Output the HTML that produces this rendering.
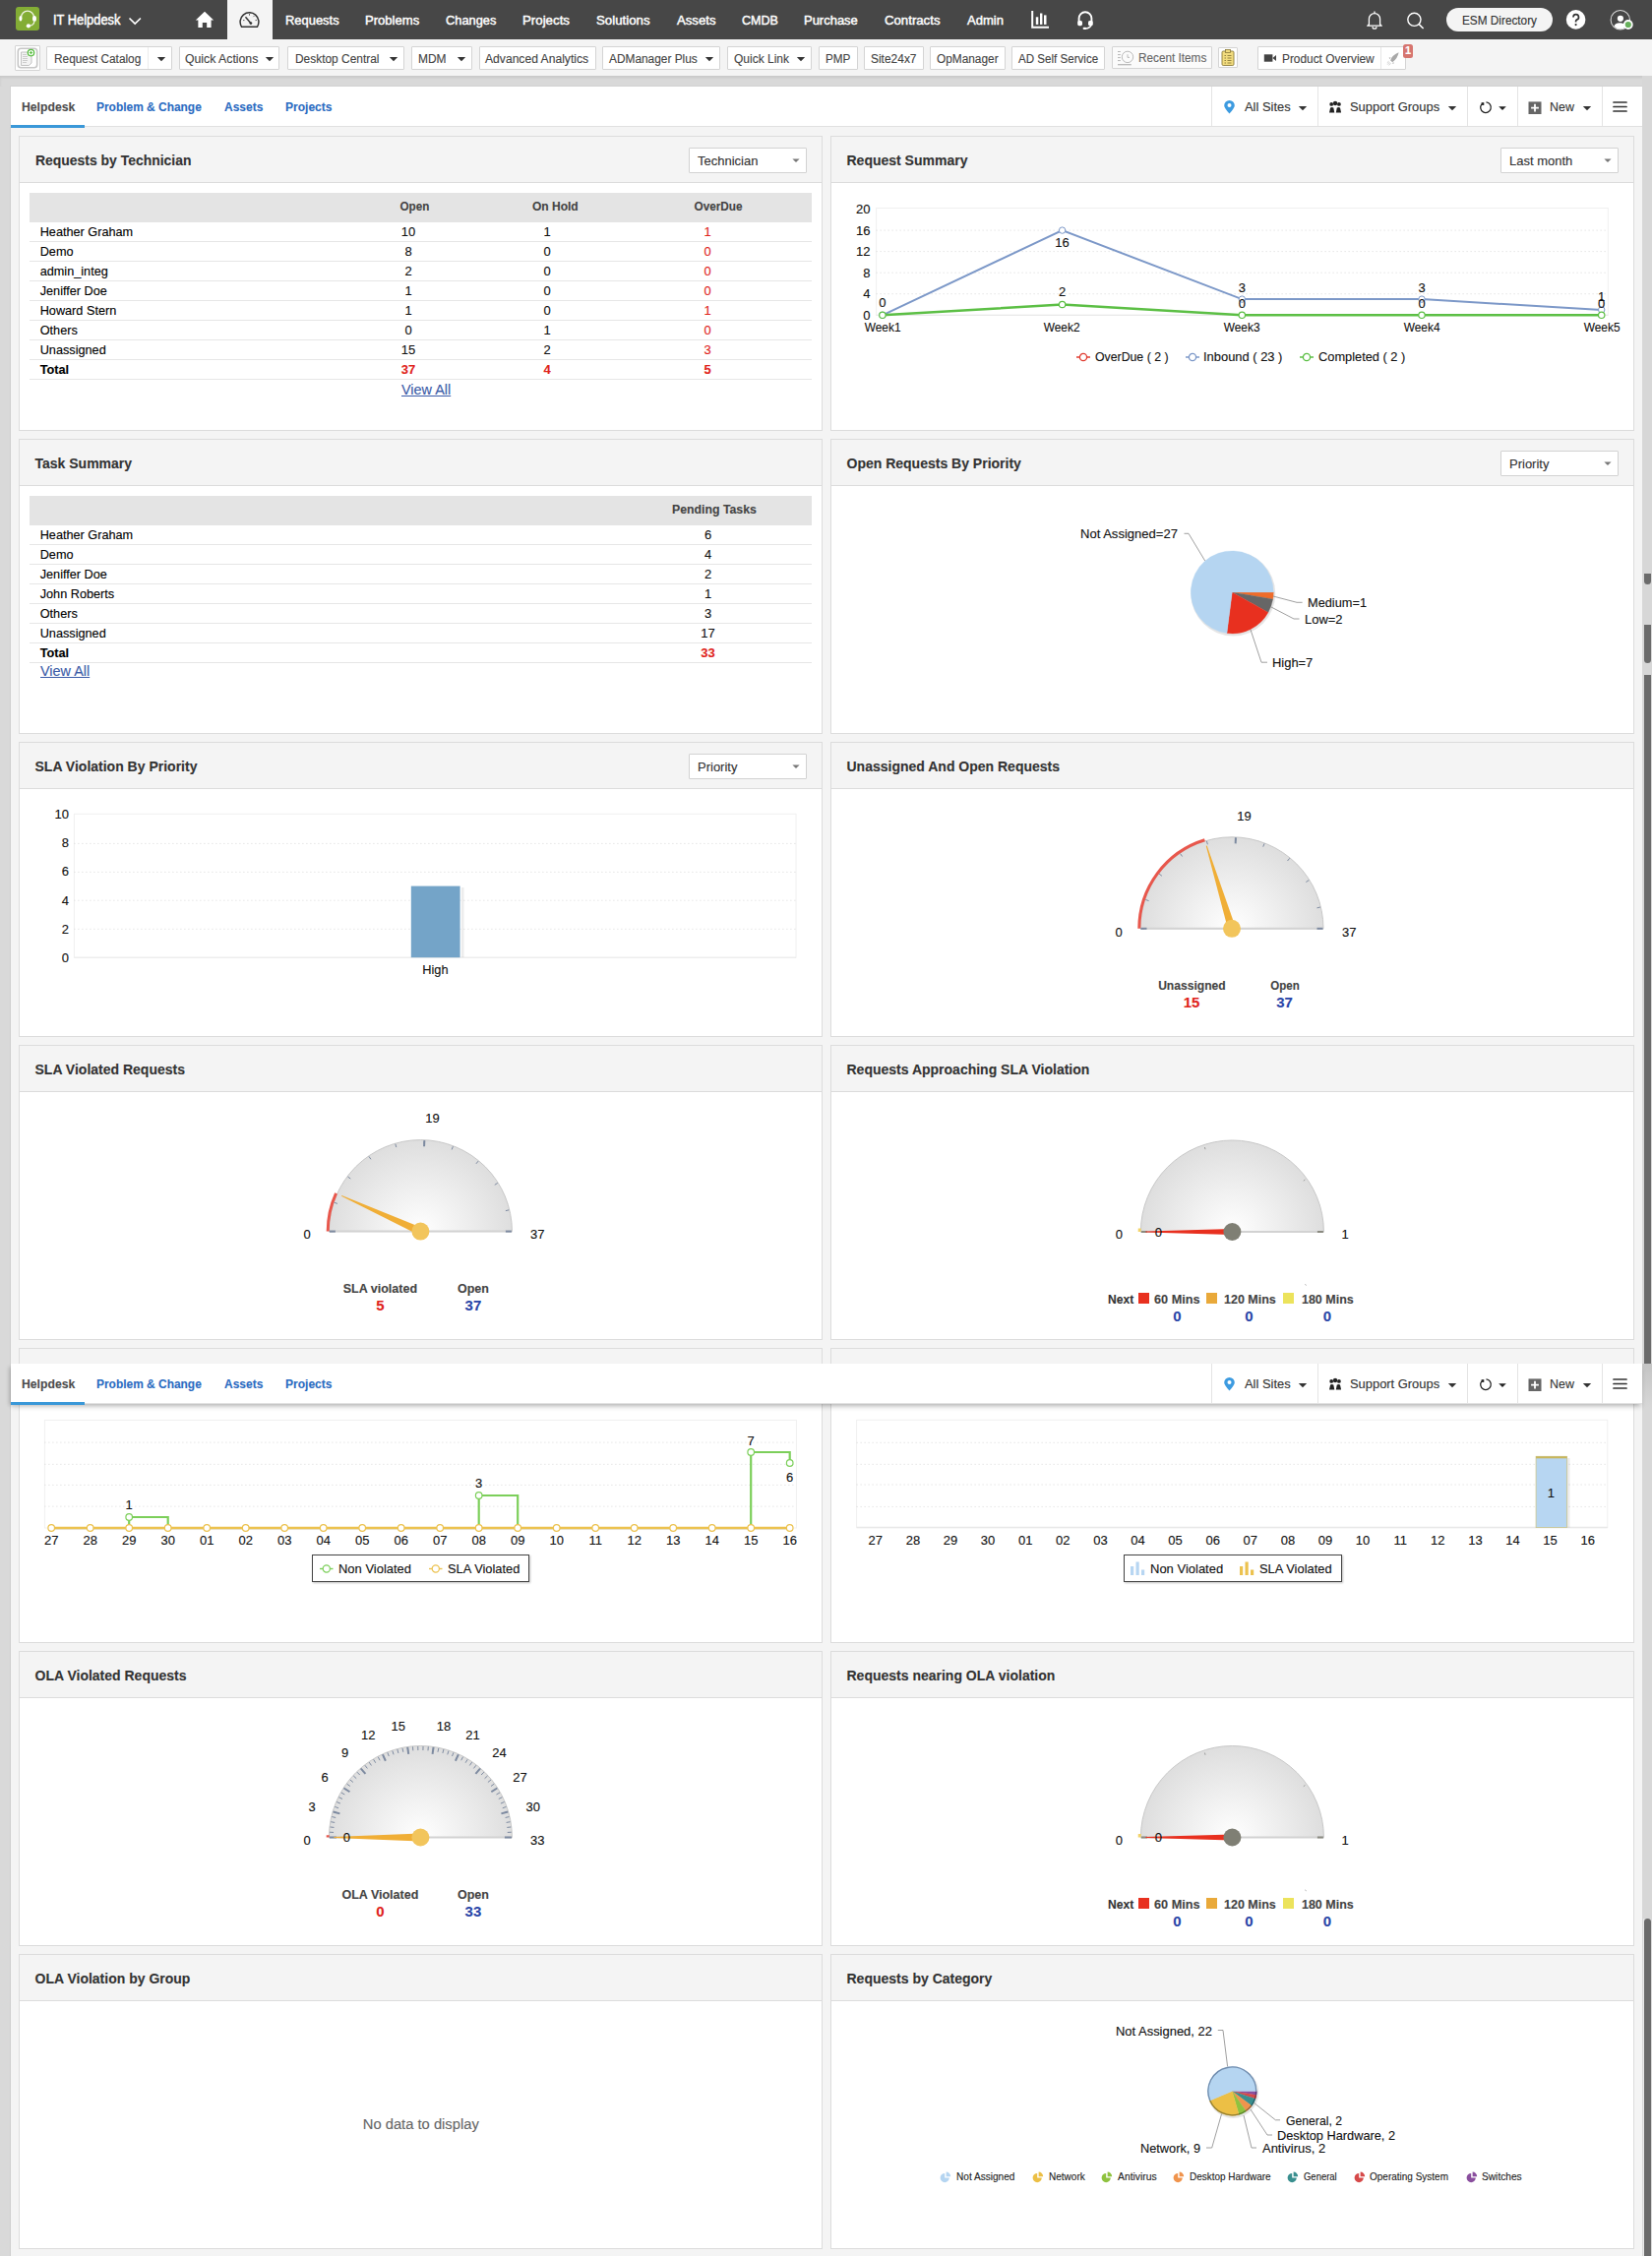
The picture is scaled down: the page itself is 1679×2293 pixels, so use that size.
<!DOCTYPE html><html><head><meta charset="utf-8"><title>Dashboard</title><style>html,body{margin:0;padding:0;}body{width:1679px;height:2293px;overflow:hidden;position:relative;font-family:"Liberation Sans", sans-serif;}svg{overflow:visible}div{-webkit-text-stroke:0.12px currentColor;}</style></head><body><div style="position:absolute;left:0px;top:0px;width:1679px;height:2293px;background:#f4f4f4;"></div><div style="position:absolute;left:0px;top:77px;width:11px;height:2216px;background:#d9d9d9;"></div><div style="position:absolute;left:10px;top:88px;width:1px;height:2205px;background:#cfcfcf;"></div><div style="position:absolute;left:1669px;top:77px;width:10px;height:2216px;background:#d9d9d9;"></div><div style="position:absolute;left:0px;top:0px;width:1679px;height:40px;background:#474747;"></div><div style="position:absolute;left:16px;top:7px;width:24px;height:24px;background:#83ad35;border-radius:3px;"></div><svg style="position:absolute;left:16px;top:7px;" width="24" height="24" viewBox="0 0 24 24"><path d="M5.6 12.5 V10.5 A6.4 6.4 0 0 1 18.4 10.5 V12.5" fill="none" stroke="#eef3e2" stroke-width="1.3"/><ellipse cx="4.9" cy="11.8" rx="1.5" ry="2.7" fill="#fff"/><ellipse cx="19" cy="11.9" rx="2" ry="2.9" fill="#fff"/><path d="M18.9 14.5 Q18.6 18.6 14.2 19.2" fill="none" stroke="#eef3e2" stroke-width="1.2"/><circle cx="12.9" cy="19.3" r="2.1" fill="#fff"/></svg><div style="position:absolute;left:53.70px;top:12.75px;font-size:14px;line-height:14px;font-weight:normal;color:#fff;white-space:nowrap;z-index:2;-webkit-text-stroke:0.45px #fff;"><span style="display:inline-block;transform:scaleX(0.9200);transform-origin:left center;">IT Helpdesk</span></div><svg style="position:absolute;left:130px;top:16px;" width="15" height="10" viewBox="0 0 15 10"><path d="M1.5 2.5 L7.2 8 L12.9 2.5" fill="none" stroke="#fff" stroke-width="1.7"/></svg><svg style="position:absolute;left:198px;top:11px;" width="20" height="18" viewBox="0 0 20 18"><path d="M10 0.8 L19.2 9.6 L16.6 9.6 L16.6 17 L12.2 17 L12.2 12 L7.8 12 L7.8 17 L3.4 17 L3.4 9.6 L0.8 9.6 Z" fill="#fff"/></svg><div style="position:absolute;left:231px;top:0px;width:46px;height:40px;background:#f4f4f4;"></div><svg style="position:absolute;left:243px;top:11px;" width="22" height="18" viewBox="0 0 22 18"><path d="M2.6 16.3 A9.4 9.4 0 1 1 18.4 16.3 Z" fill="none" stroke="#333" stroke-width="1.5" stroke-linejoin="round"/><path d="M6.5 6.2 L11.6 12.3" stroke="#333" stroke-width="1.4"/><circle cx="11.9" cy="12.6" r="1.4" fill="#333"/><path d="M10.5 3.2 V4.6 M4.2 9.6 H5.4 M16.6 9.6 H17.8 M15.2 5.3 L14.4 6.1" stroke="#333" stroke-width="0.9"/></svg><div style="position:absolute;left:290.20px;top:14.27px;font-size:13.5px;line-height:13.5px;font-weight:normal;color:#fff;white-space:nowrap;z-index:2;-webkit-text-stroke:0.45px #fff;"><span style="display:inline-block;transform:scaleX(0.9571);transform-origin:left center;">Requests</span></div><div style="position:absolute;left:371.20px;top:14.27px;font-size:13.5px;line-height:13.5px;font-weight:normal;color:#fff;white-space:nowrap;z-index:2;-webkit-text-stroke:0.45px #fff;"><span style="display:inline-block;transform:scaleX(0.9679);transform-origin:left center;">Problems</span></div><div style="position:absolute;left:452.90px;top:14.27px;font-size:13.5px;line-height:13.5px;font-weight:normal;color:#fff;white-space:nowrap;z-index:2;-webkit-text-stroke:0.45px #fff;"><span style="display:inline-block;transform:scaleX(0.9492);transform-origin:left center;">Changes</span></div><div style="position:absolute;left:531.00px;top:14.27px;font-size:13.5px;line-height:13.5px;font-weight:normal;color:#fff;white-space:nowrap;z-index:2;-webkit-text-stroke:0.45px #fff;"><span style="display:inline-block;transform:scaleX(0.9840);transform-origin:left center;">Projects</span></div><div style="position:absolute;left:606.40px;top:14.27px;font-size:13.5px;line-height:13.5px;font-weight:normal;color:#fff;white-space:nowrap;z-index:2;-webkit-text-stroke:0.45px #fff;"><span style="display:inline-block;transform:scaleX(0.9830);transform-origin:left center;">Solutions</span></div><div style="position:absolute;left:688.20px;top:14.27px;font-size:13.5px;line-height:13.5px;font-weight:normal;color:#fff;white-space:nowrap;z-index:2;-webkit-text-stroke:0.45px #fff;"><span style="display:inline-block;transform:scaleX(0.9749);transform-origin:left center;">Assets</span></div><div style="position:absolute;left:754.00px;top:14.27px;font-size:13.5px;line-height:13.5px;font-weight:normal;color:#fff;white-space:nowrap;z-index:2;-webkit-text-stroke:0.45px #fff;"><span style="display:inline-block;transform:scaleX(0.9283);transform-origin:left center;">CMDB</span></div><div style="position:absolute;left:817.20px;top:14.27px;font-size:13.5px;line-height:13.5px;font-weight:normal;color:#fff;white-space:nowrap;z-index:2;-webkit-text-stroke:0.45px #fff;"><span style="display:inline-block;transform:scaleX(0.9606);transform-origin:left center;">Purchase</span></div><div style="position:absolute;left:899.00px;top:14.27px;font-size:13.5px;line-height:13.5px;font-weight:normal;color:#fff;white-space:nowrap;z-index:2;-webkit-text-stroke:0.45px #fff;"><span style="display:inline-block;transform:scaleX(0.9778);transform-origin:left center;">Contracts</span></div><div style="position:absolute;left:983.40px;top:14.27px;font-size:13.5px;line-height:13.5px;font-weight:normal;color:#fff;white-space:nowrap;z-index:2;-webkit-text-stroke:0.45px #fff;"><span style="display:inline-block;transform:scaleX(0.9643);transform-origin:left center;">Admin</span></div><svg style="position:absolute;left:1047px;top:10px;" width="20" height="20" viewBox="0 0 20 20"><path d="M2.2 1 V17.8 H19" fill="none" stroke="#fff" stroke-width="2"/><rect x="5.8" y="7.3" width="2.5" height="7.6" fill="#fff"/><rect x="10" y="3.5" width="2.4" height="11.4" fill="#fff"/><rect x="14" y="5.4" width="2.5" height="9.5" fill="#fff"/></svg><svg style="position:absolute;left:1093px;top:9px;" width="20" height="22" viewBox="0 0 20 22"><path d="M3.6 13 V9.6 A6.4 6.4 0 0 1 16.4 9.6 V13" fill="none" stroke="#fff" stroke-width="1.9"/><rect x="2.2" y="12" width="4.8" height="5.2" rx="1.6" fill="#fff"/><rect x="13" y="12" width="4.8" height="5.2" rx="1.6" fill="#fff"/><path d="M16 16.5 Q15 19.6 10 20" fill="none" stroke="#fff" stroke-width="1.6"/><rect x="7.6" y="18.8" width="3.6" height="2.3" rx="1" fill="#fff"/></svg><svg style="position:absolute;left:1387px;top:10px;" width="20" height="20" viewBox="0 0 20 20"><path d="M10 1.6 V3 M4.4 14.8 V9.2 A5.6 5.6 0 0 1 15.6 9.2 V14.8 L17.2 16.2 H2.8 Z" fill="none" stroke="#fff" stroke-width="1.3" stroke-linejoin="round"/><path d="M8 17.2 A2 2 0 0 0 12 17.2" fill="none" stroke="#fff" stroke-width="1.3"/></svg><svg style="position:absolute;left:1429px;top:12px;" width="20" height="18" viewBox="0 0 20 18"><circle cx="8.4" cy="7.8" r="6.6" fill="none" stroke="#fff" stroke-width="1.4"/><path d="M13.2 12.6 L17.6 17" stroke="#fff" stroke-width="1.5"/></svg><div style="position:absolute;left:1470px;top:8px;width:108px;height:24px;background:#f4f4f4;border-radius:12px;"></div><div style="position:absolute;left:1485.90px;top:15.14px;font-size:12px;line-height:12px;font-weight:normal;color:#333;white-space:nowrap;z-index:2;"><span style="display:inline-block;transform:scaleX(0.9826);transform-origin:left center;">ESM Directory</span></div><svg style="position:absolute;left:1591px;top:9px;" width="22" height="22" viewBox="0 0 22 22"><circle cx="10.6" cy="10.9" r="9.8" fill="#fff"/><path d="M8 8.5 A2.75 2.75 0 1 1 11.5 11.1 Q10.6 11.6 10.6 12.8 V13.6" fill="none" stroke="#333" stroke-width="1.7"/><circle cx="10.6" cy="16.1" r="1.1" fill="#333"/></svg><svg style="position:absolute;left:1635px;top:9px;" width="26" height="24" viewBox="0 0 26 24"><defs><clipPath id="ucl"><circle cx="11.8" cy="11.2" r="9.2"/></clipPath></defs><circle cx="11.8" cy="11.2" r="9.7" fill="none" stroke="#d6d6d6" stroke-width="1.1"/><circle cx="11.9" cy="9.8" r="3.1" fill="#fff"/><ellipse cx="11.3" cy="17.8" rx="5.8" ry="3.5" fill="#fff" clip-path="url(#ucl)"/><circle cx="19.8" cy="16" r="4.9" fill="#fff"/><circle cx="19.8" cy="16" r="3.1" fill="#67b05b"/></svg><div style="position:absolute;left:0px;top:40px;width:1679px;height:37px;background:#f4f4f4;"></div><div style="position:absolute;left:0px;top:77px;width:1679px;height:11px;background:#d9d9d9;box-shadow: inset 0 2px 3px rgba(0,0,0,0.08);"></div><div style="position:absolute;left:15px;top:46px;width:26px;height:26px;background:#fff;box-sizing:border-box;border:1px solid #d4d4d4;border-radius:1px;"></div><svg style="position:absolute;left:15px;top:46px;" width="26" height="26" viewBox="0 0 26 26"><rect x="3.3" y="3.3" width="19.4" height="19.4" rx="3" fill="#fff" stroke="#c6c6c6" stroke-width="1.6"/><path d="M6.5 7 H14 L17 10 V18 L14.5 20.5 H6.5 Z" fill="#f3f3f3" stroke="#bbb" stroke-width="0.9"/><path d="M8 9.5H12 M8 11.5H13 M8 13.5H13 M8 15.5H13 M8 17.5H12" stroke="#bbb" stroke-width="0.7"/><circle cx="16.5" cy="7.6" r="3.2" fill="#fff" stroke="#5cbf45" stroke-width="1.3"/><path d="M16.5 5.9V9.3M14.8 7.6H18.2" stroke="#5cbf45" stroke-width="1"/></svg><div style="position:absolute;left:47px;top:47px;width:128px;height:24px;background:#fff;box-sizing:border-box;border:1px solid #d4d4d4;border-radius:1px;"></div><div style="position:absolute;left:54.50px;top:54.04px;font-size:12px;line-height:12px;font-weight:normal;color:#444;white-space:nowrap;z-index:2;"><span style="display:inline-block;transform:scaleX(0.9878);transform-origin:left center;">Request Catalog</span></div><svg style="position:absolute;left:157.8px;top:56px;" width="12" height="8" viewBox="0 0 12 8"><path d="M1.80 2.11 L10.20 2.11 L6 6.31 Z" fill="#333"/></svg><div style="position:absolute;left:150px;top:48px;width:1px;height:22px;background:#ececec;"></div><div style="position:absolute;left:182px;top:47px;width:102px;height:24px;background:#fff;box-sizing:border-box;border:1px solid #d4d4d4;border-radius:1px;"></div><div style="position:absolute;left:188.40px;top:54.04px;font-size:12px;line-height:12px;font-weight:normal;color:#444;white-space:nowrap;z-index:2;"><span style="display:inline-block;transform:scaleX(1.0220);transform-origin:left center;">Quick Actions</span></div><svg style="position:absolute;left:268px;top:56px;" width="12" height="8" viewBox="0 0 12 8"><path d="M1.80 2.11 L10.20 2.11 L6 6.31 Z" fill="#333"/></svg><div style="position:absolute;left:292px;top:47px;width:119px;height:24px;background:#fff;box-sizing:border-box;border:1px solid #d4d4d4;border-radius:1px;"></div><div style="position:absolute;left:299.50px;top:54.04px;font-size:12px;line-height:12px;font-weight:normal;color:#444;white-space:nowrap;z-index:2;"><span style="display:inline-block;transform:scaleX(0.9936);transform-origin:left center;">Desktop Central</span></div><svg style="position:absolute;left:394px;top:56px;" width="12" height="8" viewBox="0 0 12 8"><path d="M1.80 2.11 L10.20 2.11 L6 6.31 Z" fill="#333"/></svg><div style="position:absolute;left:418px;top:47px;width:62px;height:24px;background:#fff;box-sizing:border-box;border:1px solid #d4d4d4;border-radius:1px;"></div><div style="position:absolute;left:425.40px;top:54.04px;font-size:12px;line-height:12px;font-weight:normal;color:#444;white-space:nowrap;z-index:2;"><span style="display:inline-block;transform:scaleX(0.9975);transform-origin:left center;">MDM</span></div><svg style="position:absolute;left:463px;top:56px;" width="12" height="8" viewBox="0 0 12 8"><path d="M1.80 2.11 L10.20 2.11 L6 6.31 Z" fill="#333"/></svg><div style="position:absolute;left:487px;top:47px;width:119px;height:24px;background:#fff;box-sizing:border-box;border:1px solid #d4d4d4;border-radius:1px;"></div><div style="position:absolute;left:493.40px;top:54.04px;font-size:12px;line-height:12px;font-weight:normal;color:#444;white-space:nowrap;z-index:2;"><span style="display:inline-block;transform:scaleX(1.0100);transform-origin:left center;">Advanced Analytics</span></div><div style="position:absolute;left:612px;top:47px;width:120px;height:24px;background:#fff;box-sizing:border-box;border:1px solid #d4d4d4;border-radius:1px;"></div><div style="position:absolute;left:619.00px;top:54.04px;font-size:12px;line-height:12px;font-weight:normal;color:#444;white-space:nowrap;z-index:2;"><span style="display:inline-block;transform:scaleX(0.9899);transform-origin:left center;">ADManager Plus</span></div><svg style="position:absolute;left:714.8px;top:56px;" width="12" height="8" viewBox="0 0 12 8"><path d="M1.80 2.11 L10.20 2.11 L6 6.31 Z" fill="#333"/></svg><div style="position:absolute;left:739px;top:47px;width:86px;height:24px;background:#fff;box-sizing:border-box;border:1px solid #d4d4d4;border-radius:1px;"></div><div style="position:absolute;left:746.00px;top:54.04px;font-size:12px;line-height:12px;font-weight:normal;color:#444;white-space:nowrap;z-index:2;"><span style="display:inline-block;transform:scaleX(0.9994);transform-origin:left center;">Quick Link</span></div><svg style="position:absolute;left:808px;top:56px;" width="12" height="8" viewBox="0 0 12 8"><path d="M1.80 2.11 L10.20 2.11 L6 6.31 Z" fill="#333"/></svg><div style="position:absolute;left:832px;top:47px;width:40px;height:24px;background:#fff;box-sizing:border-box;border:1px solid #d4d4d4;border-radius:1px;"></div><div style="position:absolute;left:839.00px;top:54.04px;font-size:12px;line-height:12px;font-weight:normal;color:#444;white-space:nowrap;z-index:2;"><span style="display:inline-block;transform:scaleX(0.9763);transform-origin:left center;">PMP</span></div><div style="position:absolute;left:878px;top:47px;width:61px;height:24px;background:#fff;box-sizing:border-box;border:1px solid #d4d4d4;border-radius:1px;"></div><div style="position:absolute;left:885.00px;top:54.04px;font-size:12px;line-height:12px;font-weight:normal;color:#444;white-space:nowrap;z-index:2;"><span style="display:inline-block;transform:scaleX(0.9957);transform-origin:left center;">Site24x7</span></div><div style="position:absolute;left:945px;top:47px;width:77px;height:24px;background:#fff;box-sizing:border-box;border:1px solid #d4d4d4;border-radius:1px;"></div><div style="position:absolute;left:952.00px;top:54.04px;font-size:12px;line-height:12px;font-weight:normal;color:#444;white-space:nowrap;z-index:2;"><span style="display:inline-block;transform:scaleX(0.9878);transform-origin:left center;">OpManager</span></div><div style="position:absolute;left:1028px;top:47px;width:95px;height:24px;background:#fff;box-sizing:border-box;border:1px solid #d4d4d4;border-radius:1px;"></div><div style="position:absolute;left:1035.40px;top:54.04px;font-size:12px;line-height:12px;font-weight:normal;color:#444;white-space:nowrap;z-index:2;"><span style="display:inline-block;transform:scaleX(0.9663);transform-origin:left center;">AD Self Service</span></div><div style="position:absolute;left:1130px;top:47px;width:102px;height:23px;background:#fbfbfb;box-sizing:border-box;border:1px solid #d4d4d4;border-radius:1px;"></div><svg style="position:absolute;left:1130px;top:47px;" width="26" height="22" viewBox="0 0 26 22"><circle cx="16" cy="10.9" r="5.7" fill="none" stroke="#b4b4b4" stroke-width="0.9"/><path d="M16 8.3 V11.4 H18" fill="none" stroke="#b4b4b4" stroke-width="0.9"/><path d="M6 5.5H8.8 M6 8.6H8.8 M6 11.6H8.8 M6 14.6H8.8" stroke="#b4b4b4" stroke-width="1"/><path d="M6 18.7H19.8" stroke="#b8b8b8" stroke-width="1.3"/></svg><div style="position:absolute;left:1156.50px;top:52.74px;font-size:12px;line-height:12px;font-weight:normal;color:#666;white-space:nowrap;z-index:2;"><span style="display:inline-block;transform:scaleX(0.9802);transform-origin:left center;">Recent Items</span></div><div style="position:absolute;left:1238px;top:48px;width:20px;height:21px;background:#fff;box-sizing:border-box;border:1px solid #d4d4d4;border-radius:1px;"></div><svg style="position:absolute;left:1238px;top:48px;" width="20" height="21" viewBox="0 0 20 21"><rect x="4" y="4" width="12" height="14.5" rx="1.2" fill="#f2dc7e" stroke="#8a7a3a" stroke-width="0.9"/><rect x="7.5" y="2.5" width="5" height="3" fill="#f2dc7e" stroke="#8a7a3a" stroke-width="0.8"/><path d="M6.5 8.5H8 M9.5 8.5H13.5 M6.5 11H8 M9.5 11H13.5 M6.5 13.5H8 M9.5 13.5H13.5 M6.5 16H8 M9.5 16H13.5" stroke="#8a7a3a" stroke-width="0.9"/></svg><div style="position:absolute;left:1278px;top:47px;width:151px;height:24px;background:#fff;box-sizing:border-box;border:1px solid #d4d4d4;border-radius:1px;"></div><div style="position:absolute;left:1403px;top:48px;width:1px;height:22px;background:#e6e6e6;"></div><svg style="position:absolute;left:1284px;top:54px;" width="14" height="10" viewBox="0 0 14 10"><rect x="0.8" y="1.3" width="8.6" height="7.4" fill="#444"/><path d="M9.4 5 L13 2 V8 Z" fill="#444"/></svg><div style="position:absolute;left:1302.50px;top:54.04px;font-size:12px;line-height:12px;font-weight:normal;color:#444;white-space:nowrap;z-index:2;"><span style="display:inline-block;transform:scaleX(0.9894);transform-origin:left center;">Product Overview</span></div><svg style="position:absolute;left:1404px;top:48px;" width="22" height="22" viewBox="0 0 22 22"><path d="M9.2 13.6 Q10 8.4 17.6 5.2 Q16.4 11.6 11.2 15.2 Z" fill="#a9a9a9"/><path d="M9.6 10.2 L7.6 10.6 L8.4 12.2Z M12.6 15 L12.4 17 L10.8 16.2Z" fill="#b5b5b5"/><path d="M8.4 15.2 L6.2 17.6 M9.4 16.2 L7.6 18.4 M7.6 14.2 L5.8 15.8" stroke="#c4c4c4" stroke-width="0.8"/></svg><div style="position:absolute;left:1426px;top:45.4px;width:10px;height:13.3px;background:#d6756f;border-radius:2.5px;"></div><div style="position:absolute;left:1031.00px;width:800px;text-align:center;top:46.29px;font-size:11px;line-height:11px;font-weight:bold;color:#fff;white-space:nowrap;z-index:2;"><span style="display:inline-block;">1</span></div><div style="position:absolute;left:10px;top:87px;width:1659px;height:42px;background:#fff;box-sizing:border-box;border-bottom:1px solid #e1e1e1;border-top:1px solid #d2d2d2;border-left:1px solid #d2d2d2;"></div><div style="position:absolute;left:21.50px;top:102.00px;font-size:13px;line-height:13px;font-weight:bold;color:#4d4d4d;white-space:nowrap;z-index:2;"><span style="display:inline-block;transform:scaleX(0.9392);transform-origin:left center;">Helpdesk</span></div><div style="position:absolute;left:11px;top:127px;width:75px;height:3px;background:#3a98d8;"></div><div style="position:absolute;left:98.30px;top:102.00px;font-size:13px;line-height:13px;font-weight:bold;color:#2c6cc2;white-space:nowrap;z-index:2;"><span style="display:inline-block;transform:scaleX(0.9183);transform-origin:left center;">Problem &amp; Change</span></div><div style="position:absolute;left:227.80px;top:102.00px;font-size:13px;line-height:13px;font-weight:bold;color:#2c6cc2;white-space:nowrap;z-index:2;"><span style="display:inline-block;transform:scaleX(0.9217);transform-origin:left center;">Assets</span></div><div style="position:absolute;left:289.80px;top:102.00px;font-size:13px;line-height:13px;font-weight:bold;color:#2c6cc2;white-space:nowrap;z-index:2;"><span style="display:inline-block;transform:scaleX(0.9257);transform-origin:left center;">Projects</span></div><div style="position:absolute;left:1231px;top:88px;width:1px;height:40px;background:#e4e4e4;"></div><div style="position:absolute;left:1339px;top:88px;width:1px;height:40px;background:#e4e4e4;"></div><div style="position:absolute;left:1491px;top:88px;width:1px;height:40px;background:#e4e4e4;"></div><div style="position:absolute;left:1542px;top:88px;width:1px;height:40px;background:#e4e4e4;"></div><div style="position:absolute;left:1628px;top:88px;width:1px;height:40px;background:#e4e4e4;"></div><svg style="position:absolute;left:1243px;top:101px;" width="13" height="16" viewBox="0 0 13 16"><path d="M6.5 14.6 Q1.2 8.6 1.2 6.2 A5.3 5.3 0 0 1 11.8 6.2 Q11.8 8.6 6.5 14.6Z" fill="#3d9be0"/><circle cx="6.5" cy="6.1" r="2" fill="#fff"/></svg><div style="position:absolute;left:1264.50px;top:101.80px;font-size:13px;line-height:13px;font-weight:normal;color:#333;white-space:nowrap;z-index:2;"><span style="display:inline-block;transform:scaleX(0.9943);transform-origin:left center;">All Sites</span></div><svg style="position:absolute;left:1318px;top:106px;" width="12" height="8" viewBox="0 0 12 8"><path d="M1.80 2.11 L10.20 2.11 L6 6.31 Z" fill="#333"/></svg><svg style="position:absolute;left:1349px;top:101px;" width="16" height="15" viewBox="0 0 16 15"><circle cx="4.2" cy="4.9" r="1.9" fill="#222"/><circle cx="11.9" cy="4.9" r="1.9" fill="#222"/><circle cx="8.05" cy="4" r="2.2" fill="#222"/><path d="M2 13.4 L3.1 8.4 Q4.5 7.6 6.3 8.4 L7.3 13.4Z M8.8 13.4 L9.8 8.4 Q11.6 7.6 13 8.4 L14.1 13.4Z" fill="#222"/></svg><div style="position:absolute;left:1372.00px;top:101.80px;font-size:13px;line-height:13px;font-weight:normal;color:#333;white-space:nowrap;z-index:2;"><span style="display:inline-block;transform:scaleX(0.9926);transform-origin:left center;">Support Groups</span></div><svg style="position:absolute;left:1470px;top:106px;" width="12" height="8" viewBox="0 0 12 8"><path d="M1.80 2.11 L10.20 2.11 L6 6.31 Z" fill="#333"/></svg><svg style="position:absolute;left:1503px;top:102px;" width="14" height="14" viewBox="0 0 14 14"><path d="M7.46 1.92 A5.3 5.3 0 1 1 2.94 3.79" fill="none" stroke="#222" stroke-width="1.25"/><rect x="2.6" y="2.2" width="2.7" height="2.7" fill="#222"/></svg><svg style="position:absolute;left:1520.8px;top:106px;" width="12" height="8" viewBox="0 0 12 8"><path d="M2.20 2.29 L9.80 2.29 L6 6.09 Z" fill="#222"/></svg><svg style="position:absolute;left:1553px;top:103px;" width="14" height="14" viewBox="0 0 14 14"><rect x="0.5" y="0.4" width="13" height="12.6" fill="#666"/><path d="M7 2.8V10.6 M3.1 6.7H10.9" stroke="#fff" stroke-width="1.8"/></svg><div style="position:absolute;left:1575.30px;top:101.80px;font-size:13px;line-height:13px;font-weight:normal;color:#333;white-space:nowrap;z-index:2;"><span style="display:inline-block;transform:scaleX(0.9571);transform-origin:left center;">New</span></div><svg style="position:absolute;left:1606.6px;top:106px;" width="12" height="8" viewBox="0 0 12 8"><path d="M1.80 2.11 L10.20 2.11 L6 6.31 Z" fill="#333"/></svg><svg style="position:absolute;left:1639px;top:102px;" width="15" height="13" viewBox="0 0 15 13"><path d="M1 2H14 M1 6.5H14 M1 11H14" stroke="#333" stroke-width="1.7" stroke-linecap="round"/></svg><div style="position:absolute;left:19px;top:138px;width:817px;height:300px;background:#fff;box-sizing:border-box;border:1px solid #dcdcdc;"></div><div style="position:absolute;left:20px;top:139px;width:815px;height:47px;background:#f4f4f4;box-sizing:border-box;border-bottom:1px solid #dcdcdc;"></div><div style="position:absolute;left:35.50px;top:156.15px;font-size:14px;line-height:14px;font-weight:bold;color:#333;white-space:nowrap;z-index:2;"><span style="display:inline-block;transform:scaleX(0.9954);transform-origin:left center;">Requests by Technician</span></div><div style="position:absolute;left:700px;top:150px;width:120px;height:26px;background:#fff;box-sizing:border-box;border:1px solid #d2d2d2;border-radius:1px;"></div><div style="position:absolute;left:709.00px;top:156.80px;font-size:13px;line-height:13px;font-weight:normal;color:#333;white-space:nowrap;z-index:2;"><span style="display:inline-block;">Technician</span></div><svg style="position:absolute;left:803px;top:159px;" width="12" height="8" viewBox="0 0 12 8"><path d="M2.40 2.38 L9.60 2.38 L6 5.98 Z" fill="#777"/></svg><div style="position:absolute;left:30px;top:196px;width:795px;height:30px;background:#e4e4e4;"></div><div style="position:absolute;left:21.00px;width:800px;text-align:center;top:203.84px;font-size:12px;line-height:12px;font-weight:bold;color:#444;white-space:nowrap;z-index:2;"><span style="display:inline-block;transform:scaleX(0.9748);transform-origin:center center;">Open</span></div><div style="position:absolute;left:164.00px;width:800px;text-align:center;top:203.84px;font-size:12px;line-height:12px;font-weight:bold;color:#444;white-space:nowrap;z-index:2;"><span style="display:inline-block;transform:scaleX(1.0027);transform-origin:center center;">On Hold</span></div><div style="position:absolute;left:330.00px;width:800px;text-align:center;top:203.84px;font-size:12px;line-height:12px;font-weight:bold;color:#444;white-space:nowrap;z-index:2;"><span style="display:inline-block;transform:scaleX(0.9814);transform-origin:center center;">OverDue</span></div><div style="position:absolute;left:30px;top:245px;width:795px;height:1px;background:#e6e6e6;"></div><div style="position:absolute;left:40.70px;top:230.05px;font-size:12.7px;line-height:12.7px;font-weight:normal;color:#000;white-space:nowrap;z-index:2;"><span style="display:inline-block;">Heather Graham</span></div><div style="position:absolute;left:15.00px;width:800px;text-align:center;top:229.00px;font-size:13px;line-height:13px;font-weight:normal;color:#111;white-space:nowrap;z-index:2;"><span style="display:inline-block;">10</span></div><div style="position:absolute;left:156.00px;width:800px;text-align:center;top:229.00px;font-size:13px;line-height:13px;font-weight:normal;color:#111;white-space:nowrap;z-index:2;"><span style="display:inline-block;">1</span></div><div style="position:absolute;left:319.00px;width:800px;text-align:center;top:229.00px;font-size:13px;line-height:13px;font-weight:normal;color:#e0241c;white-space:nowrap;z-index:2;"><span style="display:inline-block;">1</span></div><div style="position:absolute;left:30px;top:265px;width:795px;height:1px;background:#e6e6e6;"></div><div style="position:absolute;left:40.70px;top:250.05px;font-size:12.7px;line-height:12.7px;font-weight:normal;color:#000;white-space:nowrap;z-index:2;"><span style="display:inline-block;">Demo</span></div><div style="position:absolute;left:15.00px;width:800px;text-align:center;top:249.00px;font-size:13px;line-height:13px;font-weight:normal;color:#111;white-space:nowrap;z-index:2;"><span style="display:inline-block;">8</span></div><div style="position:absolute;left:156.00px;width:800px;text-align:center;top:249.00px;font-size:13px;line-height:13px;font-weight:normal;color:#111;white-space:nowrap;z-index:2;"><span style="display:inline-block;">0</span></div><div style="position:absolute;left:319.00px;width:800px;text-align:center;top:249.00px;font-size:13px;line-height:13px;font-weight:normal;color:#e0241c;white-space:nowrap;z-index:2;"><span style="display:inline-block;">0</span></div><div style="position:absolute;left:30px;top:285px;width:795px;height:1px;background:#e6e6e6;"></div><div style="position:absolute;left:40.70px;top:270.05px;font-size:12.7px;line-height:12.7px;font-weight:normal;color:#000;white-space:nowrap;z-index:2;"><span style="display:inline-block;">admin_integ</span></div><div style="position:absolute;left:15.00px;width:800px;text-align:center;top:269.00px;font-size:13px;line-height:13px;font-weight:normal;color:#111;white-space:nowrap;z-index:2;"><span style="display:inline-block;">2</span></div><div style="position:absolute;left:156.00px;width:800px;text-align:center;top:269.00px;font-size:13px;line-height:13px;font-weight:normal;color:#111;white-space:nowrap;z-index:2;"><span style="display:inline-block;">0</span></div><div style="position:absolute;left:319.00px;width:800px;text-align:center;top:269.00px;font-size:13px;line-height:13px;font-weight:normal;color:#e0241c;white-space:nowrap;z-index:2;"><span style="display:inline-block;">0</span></div><div style="position:absolute;left:30px;top:305px;width:795px;height:1px;background:#e6e6e6;"></div><div style="position:absolute;left:40.70px;top:290.05px;font-size:12.7px;line-height:12.7px;font-weight:normal;color:#000;white-space:nowrap;z-index:2;"><span style="display:inline-block;">Jeniffer Doe</span></div><div style="position:absolute;left:15.00px;width:800px;text-align:center;top:289.00px;font-size:13px;line-height:13px;font-weight:normal;color:#111;white-space:nowrap;z-index:2;"><span style="display:inline-block;">1</span></div><div style="position:absolute;left:156.00px;width:800px;text-align:center;top:289.00px;font-size:13px;line-height:13px;font-weight:normal;color:#111;white-space:nowrap;z-index:2;"><span style="display:inline-block;">0</span></div><div style="position:absolute;left:319.00px;width:800px;text-align:center;top:289.00px;font-size:13px;line-height:13px;font-weight:normal;color:#e0241c;white-space:nowrap;z-index:2;"><span style="display:inline-block;">0</span></div><div style="position:absolute;left:30px;top:325px;width:795px;height:1px;background:#e6e6e6;"></div><div style="position:absolute;left:40.70px;top:310.05px;font-size:12.7px;line-height:12.7px;font-weight:normal;color:#000;white-space:nowrap;z-index:2;"><span style="display:inline-block;">Howard Stern</span></div><div style="position:absolute;left:15.00px;width:800px;text-align:center;top:309.00px;font-size:13px;line-height:13px;font-weight:normal;color:#111;white-space:nowrap;z-index:2;"><span style="display:inline-block;">1</span></div><div style="position:absolute;left:156.00px;width:800px;text-align:center;top:309.00px;font-size:13px;line-height:13px;font-weight:normal;color:#111;white-space:nowrap;z-index:2;"><span style="display:inline-block;">0</span></div><div style="position:absolute;left:319.00px;width:800px;text-align:center;top:309.00px;font-size:13px;line-height:13px;font-weight:normal;color:#e0241c;white-space:nowrap;z-index:2;"><span style="display:inline-block;">1</span></div><div style="position:absolute;left:30px;top:345px;width:795px;height:1px;background:#e6e6e6;"></div><div style="position:absolute;left:40.70px;top:330.05px;font-size:12.7px;line-height:12.7px;font-weight:normal;color:#000;white-space:nowrap;z-index:2;"><span style="display:inline-block;">Others</span></div><div style="position:absolute;left:15.00px;width:800px;text-align:center;top:329.00px;font-size:13px;line-height:13px;font-weight:normal;color:#111;white-space:nowrap;z-index:2;"><span style="display:inline-block;">0</span></div><div style="position:absolute;left:156.00px;width:800px;text-align:center;top:329.00px;font-size:13px;line-height:13px;font-weight:normal;color:#111;white-space:nowrap;z-index:2;"><span style="display:inline-block;">1</span></div><div style="position:absolute;left:319.00px;width:800px;text-align:center;top:329.00px;font-size:13px;line-height:13px;font-weight:normal;color:#e0241c;white-space:nowrap;z-index:2;"><span style="display:inline-block;">0</span></div><div style="position:absolute;left:30px;top:365px;width:795px;height:1px;background:#e6e6e6;"></div><div style="position:absolute;left:40.70px;top:350.05px;font-size:12.7px;line-height:12.7px;font-weight:normal;color:#000;white-space:nowrap;z-index:2;"><span style="display:inline-block;">Unassigned</span></div><div style="position:absolute;left:15.00px;width:800px;text-align:center;top:349.00px;font-size:13px;line-height:13px;font-weight:normal;color:#111;white-space:nowrap;z-index:2;"><span style="display:inline-block;">15</span></div><div style="position:absolute;left:156.00px;width:800px;text-align:center;top:349.00px;font-size:13px;line-height:13px;font-weight:normal;color:#111;white-space:nowrap;z-index:2;"><span style="display:inline-block;">2</span></div><div style="position:absolute;left:319.00px;width:800px;text-align:center;top:349.00px;font-size:13px;line-height:13px;font-weight:normal;color:#e0241c;white-space:nowrap;z-index:2;"><span style="display:inline-block;">3</span></div><div style="position:absolute;left:30px;top:385px;width:795px;height:1px;background:#e6e6e6;"></div><div style="position:absolute;left:40.70px;top:370.05px;font-size:12.7px;line-height:12.7px;font-weight:bold;color:#000;white-space:nowrap;z-index:2;"><span style="display:inline-block;">Total</span></div><div style="position:absolute;left:15.00px;width:800px;text-align:center;top:369.00px;font-size:13px;line-height:13px;font-weight:bold;color:#e0241c;white-space:nowrap;z-index:2;"><span style="display:inline-block;">37</span></div><div style="position:absolute;left:156.00px;width:800px;text-align:center;top:369.00px;font-size:13px;line-height:13px;font-weight:bold;color:#e0241c;white-space:nowrap;z-index:2;"><span style="display:inline-block;">4</span></div><div style="position:absolute;left:319.00px;width:800px;text-align:center;top:369.00px;font-size:13px;line-height:13px;font-weight:bold;color:#e0241c;white-space:nowrap;z-index:2;"><span style="display:inline-block;">5</span></div><div style="position:absolute;left:408.00px;top:389.45px;font-size:14px;line-height:14px;font-weight:normal;color:#3b5ca8;white-space:nowrap;z-index:2;"><span style="display:inline-block;transform:scaleX(1.0291);transform-origin:left center;text-decoration:underline;">View All</span></div><div style="position:absolute;left:19px;top:446px;width:817px;height:300px;background:#fff;box-sizing:border-box;border:1px solid #dcdcdc;"></div><div style="position:absolute;left:20px;top:447px;width:815px;height:47px;background:#f4f4f4;box-sizing:border-box;border-bottom:1px solid #dcdcdc;"></div><div style="position:absolute;left:35.50px;top:464.15px;font-size:14px;line-height:14px;font-weight:bold;color:#333;white-space:nowrap;z-index:2;"><span style="display:inline-block;">Task Summary</span></div><div style="position:absolute;left:30px;top:504px;width:795px;height:30px;background:#e4e4e4;"></div><div style="position:absolute;left:325.70px;width:800px;text-align:center;top:511.84px;font-size:12px;line-height:12px;font-weight:bold;color:#444;white-space:nowrap;z-index:2;"><span style="display:inline-block;transform:scaleX(1.0249);transform-origin:center center;">Pending Tasks</span></div><div style="position:absolute;left:30px;top:553px;width:795px;height:1px;background:#e6e6e6;"></div><div style="position:absolute;left:40.70px;top:538.05px;font-size:12.7px;line-height:12.7px;font-weight:normal;color:#000;white-space:nowrap;z-index:2;"><span style="display:inline-block;">Heather Graham</span></div><div style="position:absolute;left:319.50px;width:800px;text-align:center;top:537.00px;font-size:13px;line-height:13px;font-weight:normal;color:#111;white-space:nowrap;z-index:2;"><span style="display:inline-block;">6</span></div><div style="position:absolute;left:30px;top:573px;width:795px;height:1px;background:#e6e6e6;"></div><div style="position:absolute;left:40.70px;top:558.05px;font-size:12.7px;line-height:12.7px;font-weight:normal;color:#000;white-space:nowrap;z-index:2;"><span style="display:inline-block;">Demo</span></div><div style="position:absolute;left:319.50px;width:800px;text-align:center;top:557.00px;font-size:13px;line-height:13px;font-weight:normal;color:#111;white-space:nowrap;z-index:2;"><span style="display:inline-block;">4</span></div><div style="position:absolute;left:30px;top:593px;width:795px;height:1px;background:#e6e6e6;"></div><div style="position:absolute;left:40.70px;top:578.05px;font-size:12.7px;line-height:12.7px;font-weight:normal;color:#000;white-space:nowrap;z-index:2;"><span style="display:inline-block;">Jeniffer Doe</span></div><div style="position:absolute;left:319.50px;width:800px;text-align:center;top:577.00px;font-size:13px;line-height:13px;font-weight:normal;color:#111;white-space:nowrap;z-index:2;"><span style="display:inline-block;">2</span></div><div style="position:absolute;left:30px;top:613px;width:795px;height:1px;background:#e6e6e6;"></div><div style="position:absolute;left:40.70px;top:598.05px;font-size:12.7px;line-height:12.7px;font-weight:normal;color:#000;white-space:nowrap;z-index:2;"><span style="display:inline-block;">John Roberts</span></div><div style="position:absolute;left:319.50px;width:800px;text-align:center;top:597.00px;font-size:13px;line-height:13px;font-weight:normal;color:#111;white-space:nowrap;z-index:2;"><span style="display:inline-block;">1</span></div><div style="position:absolute;left:30px;top:633px;width:795px;height:1px;background:#e6e6e6;"></div><div style="position:absolute;left:40.70px;top:618.05px;font-size:12.7px;line-height:12.7px;font-weight:normal;color:#000;white-space:nowrap;z-index:2;"><span style="display:inline-block;">Others</span></div><div style="position:absolute;left:319.50px;width:800px;text-align:center;top:617.00px;font-size:13px;line-height:13px;font-weight:normal;color:#111;white-space:nowrap;z-index:2;"><span style="display:inline-block;">3</span></div><div style="position:absolute;left:30px;top:653px;width:795px;height:1px;background:#e6e6e6;"></div><div style="position:absolute;left:40.70px;top:638.05px;font-size:12.7px;line-height:12.7px;font-weight:normal;color:#000;white-space:nowrap;z-index:2;"><span style="display:inline-block;">Unassigned</span></div><div style="position:absolute;left:319.50px;width:800px;text-align:center;top:637.00px;font-size:13px;line-height:13px;font-weight:normal;color:#111;white-space:nowrap;z-index:2;"><span style="display:inline-block;">17</span></div><div style="position:absolute;left:30px;top:673px;width:795px;height:1px;background:#e6e6e6;"></div><div style="position:absolute;left:40.70px;top:658.05px;font-size:12.7px;line-height:12.7px;font-weight:bold;color:#000;white-space:nowrap;z-index:2;"><span style="display:inline-block;">Total</span></div><div style="position:absolute;left:319.50px;width:800px;text-align:center;top:657.00px;font-size:13px;line-height:13px;font-weight:bold;color:#e0241c;white-space:nowrap;z-index:2;"><span style="display:inline-block;">33</span></div><div style="position:absolute;left:40.50px;top:674.85px;font-size:14px;line-height:14px;font-weight:normal;color:#3b5ca8;white-space:nowrap;z-index:2;"><span style="display:inline-block;transform:scaleX(1.0291);transform-origin:left center;text-decoration:underline;">View All</span></div><div style="position:absolute;left:844px;top:138px;width:817px;height:300px;background:#fff;box-sizing:border-box;border:1px solid #dcdcdc;"></div><div style="position:absolute;left:845px;top:139px;width:815px;height:47px;background:#f4f4f4;box-sizing:border-box;border-bottom:1px solid #dcdcdc;"></div><div style="position:absolute;left:860.50px;top:156.15px;font-size:14px;line-height:14px;font-weight:bold;color:#333;white-space:nowrap;z-index:2;"><span style="display:inline-block;">Request Summary</span></div><div style="position:absolute;left:1525px;top:150px;width:120px;height:26px;background:#fff;box-sizing:border-box;border:1px solid #d2d2d2;border-radius:1px;"></div><div style="position:absolute;left:1534.00px;top:156.80px;font-size:13px;line-height:13px;font-weight:normal;color:#333;white-space:nowrap;z-index:2;"><span style="display:inline-block;">Last month</span></div><svg style="position:absolute;left:1628px;top:159px;" width="12" height="8" viewBox="0 0 12 8"><path d="M2.40 2.38 L9.60 2.38 L6 5.98 Z" fill="#777"/></svg><svg style="position:absolute;left:0px;top:0px;pointer-events:none;z-index:1;" width="1679" height="2293" viewBox="0 0 1679 2293"><rect x="890.6" y="211.5" width="743.6999999999999" height="108.80000000000001" fill="none" stroke="#f0f0f0" stroke-width="1"/><path d="M890.6 298.7 H1634.3" stroke="#d8d8d8" stroke-width="1" stroke-dasharray="1,3"/><path d="M890.6 277.2 H1634.3" stroke="#d8d8d8" stroke-width="1" stroke-dasharray="1,3"/><path d="M890.6 255.6 H1634.3" stroke="#d8d8d8" stroke-width="1" stroke-dasharray="1,3"/><path d="M890.6 234.1 H1634.3" stroke="#d8d8d8" stroke-width="1" stroke-dasharray="1,3"/><path d="M890.6 320.3 H1634.3" stroke="#e6e6e6" stroke-width="1"/><polyline points="896.9,320.3 1079.6,234.1 1262.3,304.1 1445.0,304.1 1627.7,314.9" fill="none" stroke="#7c98c8" stroke-width="2"/><circle cx="896.9" cy="320.3" r="3.2" fill="#fff" stroke="#7c98c8" stroke-width="1"/><circle cx="1079.6" cy="234.1" r="3.2" fill="#fff" stroke="#7c98c8" stroke-width="1"/><circle cx="1262.3" cy="304.1" r="3.2" fill="#fff" stroke="#7c98c8" stroke-width="1"/><circle cx="1445.0" cy="304.1" r="3.2" fill="#fff" stroke="#7c98c8" stroke-width="1"/><circle cx="1627.7" cy="314.9" r="3.2" fill="#fff" stroke="#7c98c8" stroke-width="1"/><polyline points="896.9,320.3 1079.6,309.5 1262.3,320.3 1445.0,320.3 1627.7,320.3" fill="none" stroke="#5cbf45" stroke-width="2.5"/><circle cx="896.9" cy="320.3" r="3.2" fill="#fff" stroke="#5cbf45" stroke-width="1.2"/><circle cx="1079.6" cy="309.5" r="3.2" fill="#fff" stroke="#5cbf45" stroke-width="1.2"/><circle cx="1262.3" cy="320.3" r="3.2" fill="#fff" stroke="#5cbf45" stroke-width="1.2"/><circle cx="1445.0" cy="320.3" r="3.2" fill="#fff" stroke="#5cbf45" stroke-width="1.2"/><circle cx="1627.7" cy="320.3" r="3.2" fill="#fff" stroke="#5cbf45" stroke-width="1.2"/></svg><div style="position:absolute;left:84.50px;width:800px;text-align:right;top:313.80px;font-size:13px;line-height:13px;font-weight:normal;color:#111;white-space:nowrap;z-index:2;"><span style="display:inline-block;">0</span></div><div style="position:absolute;left:84.50px;width:800px;text-align:right;top:292.24px;font-size:13px;line-height:13px;font-weight:normal;color:#111;white-space:nowrap;z-index:2;"><span style="display:inline-block;">4</span></div><div style="position:absolute;left:84.50px;width:800px;text-align:right;top:270.68px;font-size:13px;line-height:13px;font-weight:normal;color:#111;white-space:nowrap;z-index:2;"><span style="display:inline-block;">8</span></div><div style="position:absolute;left:84.50px;width:800px;text-align:right;top:249.12px;font-size:13px;line-height:13px;font-weight:normal;color:#111;white-space:nowrap;z-index:2;"><span style="display:inline-block;">12</span></div><div style="position:absolute;left:84.50px;width:800px;text-align:right;top:227.56px;font-size:13px;line-height:13px;font-weight:normal;color:#111;white-space:nowrap;z-index:2;"><span style="display:inline-block;">16</span></div><div style="position:absolute;left:84.50px;width:800px;text-align:right;top:206.00px;font-size:13px;line-height:13px;font-weight:normal;color:#111;white-space:nowrap;z-index:2;"><span style="display:inline-block;">20</span></div><div style="position:absolute;left:496.90px;width:800px;text-align:center;top:326.30px;font-size:13px;line-height:13px;font-weight:normal;color:#111;white-space:nowrap;z-index:2;"><span style="display:inline-block;transform:scaleX(0.9146);transform-origin:center center;">Week1</span></div><div style="position:absolute;left:679.60px;width:800px;text-align:center;top:326.30px;font-size:13px;line-height:13px;font-weight:normal;color:#111;white-space:nowrap;z-index:2;"><span style="display:inline-block;transform:scaleX(0.9146);transform-origin:center center;">Week2</span></div><div style="position:absolute;left:862.30px;width:800px;text-align:center;top:326.30px;font-size:13px;line-height:13px;font-weight:normal;color:#111;white-space:nowrap;z-index:2;"><span style="display:inline-block;transform:scaleX(0.9146);transform-origin:center center;">Week3</span></div><div style="position:absolute;left:1045.00px;width:800px;text-align:center;top:326.30px;font-size:13px;line-height:13px;font-weight:normal;color:#111;white-space:nowrap;z-index:2;"><span style="display:inline-block;transform:scaleX(0.9146);transform-origin:center center;">Week4</span></div><div style="position:absolute;left:1227.70px;width:800px;text-align:center;top:326.30px;font-size:13px;line-height:13px;font-weight:normal;color:#111;white-space:nowrap;z-index:2;"><span style="display:inline-block;transform:scaleX(0.9146);transform-origin:center center;">Week5</span></div><div style="position:absolute;left:496.90px;width:800px;text-align:center;top:300.50px;font-size:13px;line-height:13px;font-weight:normal;color:#111;white-space:nowrap;z-index:2;"><span style="display:inline-block;">0</span></div><div style="position:absolute;left:679.60px;width:800px;text-align:center;top:239.50px;font-size:13px;line-height:13px;font-weight:normal;color:#111;white-space:nowrap;z-index:2;"><span style="display:inline-block;">16</span></div><div style="position:absolute;left:679.60px;width:800px;text-align:center;top:289.50px;font-size:13px;line-height:13px;font-weight:normal;color:#111;white-space:nowrap;z-index:2;"><span style="display:inline-block;">2</span></div><div style="position:absolute;left:862.30px;width:800px;text-align:center;top:285.50px;font-size:13px;line-height:13px;font-weight:normal;color:#111;white-space:nowrap;z-index:2;"><span style="display:inline-block;">3</span></div><div style="position:absolute;left:862.30px;width:800px;text-align:center;top:301.50px;font-size:13px;line-height:13px;font-weight:normal;color:#111;white-space:nowrap;z-index:2;"><span style="display:inline-block;">0</span></div><div style="position:absolute;left:1045.00px;width:800px;text-align:center;top:285.50px;font-size:13px;line-height:13px;font-weight:normal;color:#111;white-space:nowrap;z-index:2;"><span style="display:inline-block;">3</span></div><div style="position:absolute;left:1045.00px;width:800px;text-align:center;top:301.50px;font-size:13px;line-height:13px;font-weight:normal;color:#111;white-space:nowrap;z-index:2;"><span style="display:inline-block;">0</span></div><div style="position:absolute;left:1227.70px;width:800px;text-align:center;top:295.00px;font-size:13px;line-height:13px;font-weight:normal;color:#111;white-space:nowrap;z-index:2;"><span style="display:inline-block;">1</span></div><div style="position:absolute;left:1227.70px;width:800px;text-align:center;top:301.50px;font-size:13px;line-height:13px;font-weight:normal;color:#111;white-space:nowrap;z-index:2;"><span style="display:inline-block;">0</span></div><svg style="position:absolute;left:1093.5px;top:357px;" width="15" height="12" viewBox="0 0 15 12"><path d="M0 6 H14" stroke="#e03c31" stroke-width="1.5"/><circle cx="7" cy="6" r="3.6" fill="#fff" stroke="#e03c31" stroke-width="1.3"/></svg><div style="position:absolute;left:1112.70px;top:356.40px;font-size:13px;line-height:13px;font-weight:normal;color:#111;white-space:nowrap;z-index:2;"><span style="display:inline-block;transform:scaleX(0.9460);transform-origin:left center;">OverDue ( 2 )</span></div><svg style="position:absolute;left:1204.6px;top:357px;" width="15" height="12" viewBox="0 0 15 12"><path d="M0 6 H14" stroke="#7c98c8" stroke-width="1.5"/><circle cx="7" cy="6" r="3.6" fill="#fff" stroke="#7c98c8" stroke-width="1.3"/></svg><div style="position:absolute;left:1223.40px;top:356.40px;font-size:13px;line-height:13px;font-weight:normal;color:#111;white-space:nowrap;z-index:2;"><span style="display:inline-block;transform:scaleX(0.9932);transform-origin:left center;">Inbound ( 23 )</span></div><svg style="position:absolute;left:1321.2px;top:357px;" width="15" height="12" viewBox="0 0 15 12"><path d="M0 6 H14" stroke="#5cbf45" stroke-width="1.5"/><circle cx="7" cy="6" r="3.6" fill="#fff" stroke="#5cbf45" stroke-width="1.3"/></svg><div style="position:absolute;left:1340.40px;top:356.40px;font-size:13px;line-height:13px;font-weight:normal;color:#111;white-space:nowrap;z-index:2;"><span style="display:inline-block;transform:scaleX(0.9856);transform-origin:left center;">Completed ( 2 )</span></div><div style="position:absolute;left:844px;top:446px;width:817px;height:300px;background:#fff;box-sizing:border-box;border:1px solid #dcdcdc;"></div><div style="position:absolute;left:845px;top:447px;width:815px;height:47px;background:#f4f4f4;box-sizing:border-box;border-bottom:1px solid #dcdcdc;"></div><div style="position:absolute;left:860.50px;top:464.15px;font-size:14px;line-height:14px;font-weight:bold;color:#333;white-space:nowrap;z-index:2;"><span style="display:inline-block;">Open Requests By Priority</span></div><div style="position:absolute;left:1525px;top:458px;width:120px;height:26px;background:#fff;box-sizing:border-box;border:1px solid #d2d2d2;border-radius:1px;"></div><div style="position:absolute;left:1534.00px;top:464.80px;font-size:13px;line-height:13px;font-weight:normal;color:#333;white-space:nowrap;z-index:2;"><span style="display:inline-block;">Priority</span></div><svg style="position:absolute;left:1628px;top:467px;" width="12" height="8" viewBox="0 0 12 8"><path d="M2.40 2.38 L9.60 2.38 L6 5.98 Z" fill="#777"/></svg><div style="position:absolute;left:1098.40px;top:536.00px;font-size:13px;line-height:13px;font-weight:normal;color:#111;white-space:nowrap;z-index:2;"><span style="display:inline-block;transform:scaleX(1.0025);transform-origin:left center;">Not Assigned=27</span></div><div style="position:absolute;left:1329.30px;top:606.00px;font-size:13px;line-height:13px;font-weight:normal;color:#111;white-space:nowrap;z-index:2;"><span style="display:inline-block;transform:scaleX(0.9826);transform-origin:left center;">Medium=1</span></div><div style="position:absolute;left:1325.50px;top:622.70px;font-size:13px;line-height:13px;font-weight:normal;color:#111;white-space:nowrap;z-index:2;"><span style="display:inline-block;transform:scaleX(0.9956);transform-origin:left center;">Low=2</span></div><div style="position:absolute;left:1292.70px;top:666.90px;font-size:13px;line-height:13px;font-weight:normal;color:#111;white-space:nowrap;z-index:2;"><span style="display:inline-block;transform:scaleX(0.9937);transform-origin:left center;">High=7</span></div><div style="position:absolute;left:19px;top:754px;width:817px;height:300px;background:#fff;box-sizing:border-box;border:1px solid #dcdcdc;"></div><div style="position:absolute;left:20px;top:755px;width:815px;height:47px;background:#f4f4f4;box-sizing:border-box;border-bottom:1px solid #dcdcdc;"></div><div style="position:absolute;left:35.50px;top:772.15px;font-size:14px;line-height:14px;font-weight:bold;color:#333;white-space:nowrap;z-index:2;"><span style="display:inline-block;">SLA Violation By Priority</span></div><div style="position:absolute;left:700px;top:766px;width:120px;height:26px;background:#fff;box-sizing:border-box;border:1px solid #d2d2d2;border-radius:1px;"></div><div style="position:absolute;left:709.00px;top:772.80px;font-size:13px;line-height:13px;font-weight:normal;color:#333;white-space:nowrap;z-index:2;"><span style="display:inline-block;">Priority</span></div><svg style="position:absolute;left:803px;top:775px;" width="12" height="8" viewBox="0 0 12 8"><path d="M2.40 2.38 L9.60 2.38 L6 5.98 Z" fill="#777"/></svg><div style="position:absolute;left:-730.10px;width:800px;text-align:right;top:966.90px;font-size:13px;line-height:13px;font-weight:normal;color:#111;white-space:nowrap;z-index:2;"><span style="display:inline-block;">0</span></div><div style="position:absolute;left:-730.10px;width:800px;text-align:right;top:937.72px;font-size:13px;line-height:13px;font-weight:normal;color:#111;white-space:nowrap;z-index:2;"><span style="display:inline-block;">2</span></div><div style="position:absolute;left:-730.10px;width:800px;text-align:right;top:908.54px;font-size:13px;line-height:13px;font-weight:normal;color:#111;white-space:nowrap;z-index:2;"><span style="display:inline-block;">4</span></div><div style="position:absolute;left:-730.10px;width:800px;text-align:right;top:879.36px;font-size:13px;line-height:13px;font-weight:normal;color:#111;white-space:nowrap;z-index:2;"><span style="display:inline-block;">6</span></div><div style="position:absolute;left:-730.10px;width:800px;text-align:right;top:850.18px;font-size:13px;line-height:13px;font-weight:normal;color:#111;white-space:nowrap;z-index:2;"><span style="display:inline-block;">8</span></div><div style="position:absolute;left:-730.10px;width:800px;text-align:right;top:821.00px;font-size:13px;line-height:13px;font-weight:normal;color:#111;white-space:nowrap;z-index:2;"><span style="display:inline-block;">10</span></div><div style="position:absolute;left:42.80px;width:800px;text-align:center;top:978.90px;font-size:13px;line-height:13px;font-weight:normal;color:#111;white-space:nowrap;z-index:2;"><span style="display:inline-block;transform:scaleX(0.9832);transform-origin:center center;">High</span></div><div style="position:absolute;left:844px;top:754px;width:817px;height:300px;background:#fff;box-sizing:border-box;border:1px solid #dcdcdc;"></div><div style="position:absolute;left:845px;top:755px;width:815px;height:47px;background:#f4f4f4;box-sizing:border-box;border-bottom:1px solid #dcdcdc;"></div><div style="position:absolute;left:860.50px;top:772.15px;font-size:14px;line-height:14px;font-weight:bold;color:#333;white-space:nowrap;z-index:2;"><span style="display:inline-block;">Unassigned And Open Requests</span></div><div style="position:absolute;left:737.20px;width:800px;text-align:center;top:940.50px;font-size:13px;line-height:13px;font-weight:normal;color:#111;white-space:nowrap;z-index:2;"><span style="display:inline-block;">0</span></div><div style="position:absolute;left:971.20px;width:800px;text-align:center;top:940.50px;font-size:13px;line-height:13px;font-weight:normal;color:#111;white-space:nowrap;z-index:2;"><span style="display:inline-block;">37</span></div><div style="position:absolute;left:864.60px;width:800px;text-align:center;top:822.60px;font-size:13px;line-height:13px;font-weight:normal;color:#111;white-space:nowrap;z-index:2;"><span style="display:inline-block;">19</span></div><div style="position:absolute;left:811.00px;width:800px;text-align:center;top:996.22px;font-size:12.5px;line-height:12.5px;font-weight:bold;color:#444;white-space:nowrap;z-index:2;"><span style="display:inline-block;transform:scaleX(0.9681);transform-origin:center center;">Unassigned</span></div><div style="position:absolute;left:811.00px;width:800px;text-align:center;top:1011.10px;font-size:15px;line-height:15px;font-weight:bold;color:#e0241c;white-space:nowrap;z-index:2;"><span style="display:inline-block;">15</span></div><div style="position:absolute;left:905.50px;width:800px;text-align:center;top:996.22px;font-size:12.5px;line-height:12.5px;font-weight:bold;color:#444;white-space:nowrap;z-index:2;"><span style="display:inline-block;transform:scaleX(0.9232);transform-origin:center center;">Open</span></div><div style="position:absolute;left:905.50px;width:800px;text-align:center;top:1011.10px;font-size:15px;line-height:15px;font-weight:bold;color:#2a46a8;white-space:nowrap;z-index:2;"><span style="display:inline-block;">37</span></div><div style="position:absolute;left:19px;top:1062px;width:817px;height:300px;background:#fff;box-sizing:border-box;border:1px solid #dcdcdc;"></div><div style="position:absolute;left:20px;top:1063px;width:815px;height:47px;background:#f4f4f4;box-sizing:border-box;border-bottom:1px solid #dcdcdc;"></div><div style="position:absolute;left:35.50px;top:1080.15px;font-size:14px;line-height:14px;font-weight:bold;color:#333;white-space:nowrap;z-index:2;"><span style="display:inline-block;">SLA Violated Requests</span></div><div style="position:absolute;left:-87.80px;width:800px;text-align:center;top:1248.30px;font-size:13px;line-height:13px;font-weight:normal;color:#111;white-space:nowrap;z-index:2;"><span style="display:inline-block;">0</span></div><div style="position:absolute;left:146.20px;width:800px;text-align:center;top:1248.30px;font-size:13px;line-height:13px;font-weight:normal;color:#111;white-space:nowrap;z-index:2;"><span style="display:inline-block;">37</span></div><div style="position:absolute;left:39.60px;width:800px;text-align:center;top:1130.40px;font-size:13px;line-height:13px;font-weight:normal;color:#111;white-space:nowrap;z-index:2;"><span style="display:inline-block;">19</span></div><div style="position:absolute;left:-13.60px;width:800px;text-align:center;top:1304.02px;font-size:12.5px;line-height:12.5px;font-weight:bold;color:#444;white-space:nowrap;z-index:2;"><span style="display:inline-block;">SLA violated</span></div><div style="position:absolute;left:-13.60px;width:800px;text-align:center;top:1318.90px;font-size:15px;line-height:15px;font-weight:bold;color:#e0241c;white-space:nowrap;z-index:2;"><span style="display:inline-block;">5</span></div><div style="position:absolute;left:80.90px;width:800px;text-align:center;top:1304.02px;font-size:12.5px;line-height:12.5px;font-weight:bold;color:#444;white-space:nowrap;z-index:2;"><span style="display:inline-block;">Open</span></div><div style="position:absolute;left:80.90px;width:800px;text-align:center;top:1318.90px;font-size:15px;line-height:15px;font-weight:bold;color:#2a46a8;white-space:nowrap;z-index:2;"><span style="display:inline-block;">37</span></div><div style="position:absolute;left:844px;top:1062px;width:817px;height:300px;background:#fff;box-sizing:border-box;border:1px solid #dcdcdc;"></div><div style="position:absolute;left:845px;top:1063px;width:815px;height:47px;background:#f4f4f4;box-sizing:border-box;border-bottom:1px solid #dcdcdc;"></div><div style="position:absolute;left:860.50px;top:1080.15px;font-size:14px;line-height:14px;font-weight:bold;color:#333;white-space:nowrap;z-index:2;"><span style="display:inline-block;">Requests Approaching SLA Violation</span></div><div style="position:absolute;left:777.40px;width:800px;text-align:center;top:1245.50px;font-size:13px;line-height:13px;font-weight:normal;color:#111;white-space:nowrap;z-index:2;"><span style="display:inline-block;">0</span></div><div style="position:absolute;left:737.40px;width:800px;text-align:center;top:1248.20px;font-size:13px;line-height:13px;font-weight:normal;color:#111;white-space:nowrap;z-index:2;"><span style="display:inline-block;">0</span></div><div style="position:absolute;left:967.10px;width:800px;text-align:center;top:1248.20px;font-size:13px;line-height:13px;font-weight:normal;color:#111;white-space:nowrap;z-index:2;"><span style="display:inline-block;">1</span></div><div style="position:absolute;left:1125.70px;top:1314.62px;font-size:12.5px;line-height:12.5px;font-weight:bold;color:#333;white-space:nowrap;z-index:2;"><span style="display:inline-block;transform:scaleX(0.9670);transform-origin:left center;">Next</span></div><div style="position:absolute;left:1157px;top:1314px;width:11px;height:11px;background:#e8301f;"></div><div style="position:absolute;left:1172.60px;top:1314.62px;font-size:12.5px;line-height:12.5px;font-weight:bold;color:#444;white-space:nowrap;z-index:2;"><span style="display:inline-block;transform:scaleX(1.0161);transform-origin:left center;">60 Mins</span></div><div style="position:absolute;left:1226px;top:1314px;width:11px;height:11px;background:#e9a93a;"></div><div style="position:absolute;left:1243.70px;top:1314.62px;font-size:12.5px;line-height:12.5px;font-weight:bold;color:#444;white-space:nowrap;z-index:2;"><span style="display:inline-block;transform:scaleX(0.9998);transform-origin:left center;">120 Mins</span></div><div style="position:absolute;left:1304px;top:1314px;width:11px;height:11px;background:#ece35c;"></div><div style="position:absolute;left:1322.60px;top:1314.62px;font-size:12.5px;line-height:12.5px;font-weight:bold;color:#444;white-space:nowrap;z-index:2;"><span style="display:inline-block;transform:scaleX(0.9979);transform-origin:left center;">180 Mins</span></div><div style="position:absolute;left:796.50px;width:800px;text-align:center;top:1329.60px;font-size:15px;line-height:15px;font-weight:bold;color:#2a46a8;white-space:nowrap;z-index:2;"><span style="display:inline-block;">0</span></div><div style="position:absolute;left:869.50px;width:800px;text-align:center;top:1329.60px;font-size:15px;line-height:15px;font-weight:bold;color:#2a46a8;white-space:nowrap;z-index:2;"><span style="display:inline-block;">0</span></div><div style="position:absolute;left:948.80px;width:800px;text-align:center;top:1329.60px;font-size:15px;line-height:15px;font-weight:bold;color:#2a46a8;white-space:nowrap;z-index:2;"><span style="display:inline-block;">0</span></div><div style="position:absolute;left:19px;top:1370px;width:817px;height:300px;background:#fff;box-sizing:border-box;border:1px solid #dcdcdc;"></div><div style="position:absolute;left:20px;top:1371px;width:815px;height:47px;background:#f4f4f4;box-sizing:border-box;border-bottom:1px solid #dcdcdc;"></div><div style="position:absolute;left:844px;top:1370px;width:817px;height:300px;background:#fff;box-sizing:border-box;border:1px solid #dcdcdc;"></div><div style="position:absolute;left:845px;top:1371px;width:815px;height:47px;background:#f4f4f4;box-sizing:border-box;border-bottom:1px solid #dcdcdc;"></div><div style="position:absolute;left:-347.80px;width:800px;text-align:center;top:1558.80px;font-size:13px;line-height:13px;font-weight:normal;color:#111;white-space:nowrap;z-index:2;"><span style="display:inline-block;">27</span></div><div style="position:absolute;left:-308.30px;width:800px;text-align:center;top:1558.80px;font-size:13px;line-height:13px;font-weight:normal;color:#111;white-space:nowrap;z-index:2;"><span style="display:inline-block;">28</span></div><div style="position:absolute;left:-268.80px;width:800px;text-align:center;top:1558.80px;font-size:13px;line-height:13px;font-weight:normal;color:#111;white-space:nowrap;z-index:2;"><span style="display:inline-block;">29</span></div><div style="position:absolute;left:-229.30px;width:800px;text-align:center;top:1558.80px;font-size:13px;line-height:13px;font-weight:normal;color:#111;white-space:nowrap;z-index:2;"><span style="display:inline-block;">30</span></div><div style="position:absolute;left:-189.80px;width:800px;text-align:center;top:1558.80px;font-size:13px;line-height:13px;font-weight:normal;color:#111;white-space:nowrap;z-index:2;"><span style="display:inline-block;">01</span></div><div style="position:absolute;left:-150.30px;width:800px;text-align:center;top:1558.80px;font-size:13px;line-height:13px;font-weight:normal;color:#111;white-space:nowrap;z-index:2;"><span style="display:inline-block;">02</span></div><div style="position:absolute;left:-110.80px;width:800px;text-align:center;top:1558.80px;font-size:13px;line-height:13px;font-weight:normal;color:#111;white-space:nowrap;z-index:2;"><span style="display:inline-block;">03</span></div><div style="position:absolute;left:-71.30px;width:800px;text-align:center;top:1558.80px;font-size:13px;line-height:13px;font-weight:normal;color:#111;white-space:nowrap;z-index:2;"><span style="display:inline-block;">04</span></div><div style="position:absolute;left:-31.80px;width:800px;text-align:center;top:1558.80px;font-size:13px;line-height:13px;font-weight:normal;color:#111;white-space:nowrap;z-index:2;"><span style="display:inline-block;">05</span></div><div style="position:absolute;left:7.70px;width:800px;text-align:center;top:1558.80px;font-size:13px;line-height:13px;font-weight:normal;color:#111;white-space:nowrap;z-index:2;"><span style="display:inline-block;">06</span></div><div style="position:absolute;left:47.20px;width:800px;text-align:center;top:1558.80px;font-size:13px;line-height:13px;font-weight:normal;color:#111;white-space:nowrap;z-index:2;"><span style="display:inline-block;">07</span></div><div style="position:absolute;left:86.70px;width:800px;text-align:center;top:1558.80px;font-size:13px;line-height:13px;font-weight:normal;color:#111;white-space:nowrap;z-index:2;"><span style="display:inline-block;">08</span></div><div style="position:absolute;left:126.20px;width:800px;text-align:center;top:1558.80px;font-size:13px;line-height:13px;font-weight:normal;color:#111;white-space:nowrap;z-index:2;"><span style="display:inline-block;">09</span></div><div style="position:absolute;left:165.70px;width:800px;text-align:center;top:1558.80px;font-size:13px;line-height:13px;font-weight:normal;color:#111;white-space:nowrap;z-index:2;"><span style="display:inline-block;">10</span></div><div style="position:absolute;left:205.20px;width:800px;text-align:center;top:1558.80px;font-size:13px;line-height:13px;font-weight:normal;color:#111;white-space:nowrap;z-index:2;"><span style="display:inline-block;">11</span></div><div style="position:absolute;left:244.70px;width:800px;text-align:center;top:1558.80px;font-size:13px;line-height:13px;font-weight:normal;color:#111;white-space:nowrap;z-index:2;"><span style="display:inline-block;">12</span></div><div style="position:absolute;left:284.20px;width:800px;text-align:center;top:1558.80px;font-size:13px;line-height:13px;font-weight:normal;color:#111;white-space:nowrap;z-index:2;"><span style="display:inline-block;">13</span></div><div style="position:absolute;left:323.70px;width:800px;text-align:center;top:1558.80px;font-size:13px;line-height:13px;font-weight:normal;color:#111;white-space:nowrap;z-index:2;"><span style="display:inline-block;">14</span></div><div style="position:absolute;left:363.20px;width:800px;text-align:center;top:1558.80px;font-size:13px;line-height:13px;font-weight:normal;color:#111;white-space:nowrap;z-index:2;"><span style="display:inline-block;">15</span></div><div style="position:absolute;left:402.70px;width:800px;text-align:center;top:1558.80px;font-size:13px;line-height:13px;font-weight:normal;color:#111;white-space:nowrap;z-index:2;"><span style="display:inline-block;">16</span></div><div style="position:absolute;left:-268.80px;width:800px;text-align:center;top:1522.50px;font-size:13px;line-height:13px;font-weight:normal;color:#111;white-space:nowrap;z-index:2;"><span style="display:inline-block;">1</span></div><div style="position:absolute;left:86.70px;width:800px;text-align:center;top:1501.00px;font-size:13px;line-height:13px;font-weight:normal;color:#111;white-space:nowrap;z-index:2;"><span style="display:inline-block;">3</span></div><div style="position:absolute;left:363.20px;width:800px;text-align:center;top:1457.80px;font-size:13px;line-height:13px;font-weight:normal;color:#111;white-space:nowrap;z-index:2;"><span style="display:inline-block;">7</span></div><div style="position:absolute;left:402.70px;width:800px;text-align:center;top:1494.50px;font-size:13px;line-height:13px;font-weight:normal;color:#111;white-space:nowrap;z-index:2;"><span style="display:inline-block;">6</span></div><div style="position:absolute;left:317px;top:1580px;width:221px;height:28px;background:#fff;box-sizing:border-box;border:1px solid #444;box-shadow:1px 1px 2px rgba(0,0,0,0.25);"></div><svg style="position:absolute;left:325px;top:1588px;" width="14" height="13" viewBox="0 0 14 13"><path d="M0 6.5 H13.5" stroke="#7ccf5a" stroke-width="1.4"/><circle cx="6.8" cy="6.5" r="3.6" fill="#fff" stroke="#7ccf5a" stroke-width="1.2"/></svg><div style="position:absolute;left:344.10px;top:1588.20px;font-size:13px;line-height:13px;font-weight:normal;color:#111;white-space:nowrap;z-index:2;"><span style="display:inline-block;transform:scaleX(0.9971);transform-origin:left center;">Non Violated</span></div><svg style="position:absolute;left:436px;top:1588px;" width="14" height="13" viewBox="0 0 14 13"><path d="M0 6.5 H13.5" stroke="#ecc24f" stroke-width="1.4"/><circle cx="6.8" cy="6.5" r="3.6" fill="#fff" stroke="#ecc24f" stroke-width="1.2"/></svg><div style="position:absolute;left:455.10px;top:1588.20px;font-size:13px;line-height:13px;font-weight:normal;color:#111;white-space:nowrap;z-index:2;"><span style="display:inline-block;transform:scaleX(0.9876);transform-origin:left center;">SLA Violated</span></div><div style="position:absolute;left:489.80px;width:800px;text-align:center;top:1558.80px;font-size:13px;line-height:13px;font-weight:normal;color:#111;white-space:nowrap;z-index:2;"><span style="display:inline-block;">27</span></div><div style="position:absolute;left:527.90px;width:800px;text-align:center;top:1558.80px;font-size:13px;line-height:13px;font-weight:normal;color:#111;white-space:nowrap;z-index:2;"><span style="display:inline-block;">28</span></div><div style="position:absolute;left:566.00px;width:800px;text-align:center;top:1558.80px;font-size:13px;line-height:13px;font-weight:normal;color:#111;white-space:nowrap;z-index:2;"><span style="display:inline-block;">29</span></div><div style="position:absolute;left:604.10px;width:800px;text-align:center;top:1558.80px;font-size:13px;line-height:13px;font-weight:normal;color:#111;white-space:nowrap;z-index:2;"><span style="display:inline-block;">30</span></div><div style="position:absolute;left:642.20px;width:800px;text-align:center;top:1558.80px;font-size:13px;line-height:13px;font-weight:normal;color:#111;white-space:nowrap;z-index:2;"><span style="display:inline-block;">01</span></div><div style="position:absolute;left:680.30px;width:800px;text-align:center;top:1558.80px;font-size:13px;line-height:13px;font-weight:normal;color:#111;white-space:nowrap;z-index:2;"><span style="display:inline-block;">02</span></div><div style="position:absolute;left:718.40px;width:800px;text-align:center;top:1558.80px;font-size:13px;line-height:13px;font-weight:normal;color:#111;white-space:nowrap;z-index:2;"><span style="display:inline-block;">03</span></div><div style="position:absolute;left:756.50px;width:800px;text-align:center;top:1558.80px;font-size:13px;line-height:13px;font-weight:normal;color:#111;white-space:nowrap;z-index:2;"><span style="display:inline-block;">04</span></div><div style="position:absolute;left:794.60px;width:800px;text-align:center;top:1558.80px;font-size:13px;line-height:13px;font-weight:normal;color:#111;white-space:nowrap;z-index:2;"><span style="display:inline-block;">05</span></div><div style="position:absolute;left:832.70px;width:800px;text-align:center;top:1558.80px;font-size:13px;line-height:13px;font-weight:normal;color:#111;white-space:nowrap;z-index:2;"><span style="display:inline-block;">06</span></div><div style="position:absolute;left:870.80px;width:800px;text-align:center;top:1558.80px;font-size:13px;line-height:13px;font-weight:normal;color:#111;white-space:nowrap;z-index:2;"><span style="display:inline-block;">07</span></div><div style="position:absolute;left:908.90px;width:800px;text-align:center;top:1558.80px;font-size:13px;line-height:13px;font-weight:normal;color:#111;white-space:nowrap;z-index:2;"><span style="display:inline-block;">08</span></div><div style="position:absolute;left:947.00px;width:800px;text-align:center;top:1558.80px;font-size:13px;line-height:13px;font-weight:normal;color:#111;white-space:nowrap;z-index:2;"><span style="display:inline-block;">09</span></div><div style="position:absolute;left:985.10px;width:800px;text-align:center;top:1558.80px;font-size:13px;line-height:13px;font-weight:normal;color:#111;white-space:nowrap;z-index:2;"><span style="display:inline-block;">10</span></div><div style="position:absolute;left:1023.20px;width:800px;text-align:center;top:1558.80px;font-size:13px;line-height:13px;font-weight:normal;color:#111;white-space:nowrap;z-index:2;"><span style="display:inline-block;">11</span></div><div style="position:absolute;left:1061.30px;width:800px;text-align:center;top:1558.80px;font-size:13px;line-height:13px;font-weight:normal;color:#111;white-space:nowrap;z-index:2;"><span style="display:inline-block;">12</span></div><div style="position:absolute;left:1099.40px;width:800px;text-align:center;top:1558.80px;font-size:13px;line-height:13px;font-weight:normal;color:#111;white-space:nowrap;z-index:2;"><span style="display:inline-block;">13</span></div><div style="position:absolute;left:1137.50px;width:800px;text-align:center;top:1558.80px;font-size:13px;line-height:13px;font-weight:normal;color:#111;white-space:nowrap;z-index:2;"><span style="display:inline-block;">14</span></div><div style="position:absolute;left:1175.60px;width:800px;text-align:center;top:1558.80px;font-size:13px;line-height:13px;font-weight:normal;color:#111;white-space:nowrap;z-index:2;"><span style="display:inline-block;">15</span></div><div style="position:absolute;left:1213.70px;width:800px;text-align:center;top:1558.80px;font-size:13px;line-height:13px;font-weight:normal;color:#111;white-space:nowrap;z-index:2;"><span style="display:inline-block;">16</span></div><div style="position:absolute;left:1176.40px;width:800px;text-align:center;top:1511.00px;font-size:13px;line-height:13px;font-weight:normal;color:#111;white-space:nowrap;z-index:2;"><span style="display:inline-block;">1</span></div><div style="position:absolute;left:1142px;top:1580px;width:222px;height:28px;background:#fff;box-sizing:border-box;border:1px solid #444;box-shadow:1px 1px 2px rgba(0,0,0,0.25);"></div><svg style="position:absolute;left:1149px;top:1587px;" width="16" height="15" viewBox="0 0 16 15"><rect x="0" y="5" width="3.2" height="9" fill="#b7d6f2"/><rect x="5.5" y="0.5" width="3.2" height="13.5" fill="#b7d6f2"/><rect x="11" y="8.5" width="3.2" height="5.5" fill="#b7d6f2"/></svg><div style="position:absolute;left:1168.90px;top:1588.20px;font-size:13px;line-height:13px;font-weight:normal;color:#111;white-space:nowrap;z-index:2;"><span style="display:inline-block;transform:scaleX(0.9997);transform-origin:left center;">Non Violated</span></div><svg style="position:absolute;left:1260px;top:1587px;" width="16" height="15" viewBox="0 0 16 15"><rect x="0" y="5" width="3.2" height="9" fill="#ecc24f"/><rect x="5.5" y="0.5" width="3.2" height="13.5" fill="#ecc24f"/><rect x="11" y="8.5" width="3.2" height="5.5" fill="#ecc24f"/></svg><div style="position:absolute;left:1279.80px;top:1588.20px;font-size:13px;line-height:13px;font-weight:normal;color:#111;white-space:nowrap;z-index:2;"><span style="display:inline-block;transform:scaleX(0.9917);transform-origin:left center;">SLA Violated</span></div><div style="position:absolute;left:19px;top:1678px;width:817px;height:300px;background:#fff;box-sizing:border-box;border:1px solid #dcdcdc;"></div><div style="position:absolute;left:20px;top:1679px;width:815px;height:47px;background:#f4f4f4;box-sizing:border-box;border-bottom:1px solid #dcdcdc;"></div><div style="position:absolute;left:35.50px;top:1696.15px;font-size:14px;line-height:14px;font-weight:bold;color:#333;white-space:nowrap;z-index:2;"><span style="display:inline-block;">OLA Violated Requests</span></div><div style="position:absolute;left:-87.80px;width:800px;text-align:center;top:1864.40px;font-size:13px;line-height:13px;font-weight:normal;color:#111;white-space:nowrap;z-index:2;"><span style="display:inline-block;">0</span></div><div style="position:absolute;left:-83.00px;width:800px;text-align:center;top:1830.10px;font-size:13px;line-height:13px;font-weight:normal;color:#111;white-space:nowrap;z-index:2;"><span style="display:inline-block;">3</span></div><div style="position:absolute;left:-69.90px;width:800px;text-align:center;top:1799.90px;font-size:13px;line-height:13px;font-weight:normal;color:#111;white-space:nowrap;z-index:2;"><span style="display:inline-block;">6</span></div><div style="position:absolute;left:-49.40px;width:800px;text-align:center;top:1775.40px;font-size:13px;line-height:13px;font-weight:normal;color:#111;white-space:nowrap;z-index:2;"><span style="display:inline-block;">9</span></div><div style="position:absolute;left:-25.70px;width:800px;text-align:center;top:1756.90px;font-size:13px;line-height:13px;font-weight:normal;color:#111;white-space:nowrap;z-index:2;"><span style="display:inline-block;">12</span></div><div style="position:absolute;left:4.80px;width:800px;text-align:center;top:1747.60px;font-size:13px;line-height:13px;font-weight:normal;color:#111;white-space:nowrap;z-index:2;"><span style="display:inline-block;">15</span></div><div style="position:absolute;left:51.10px;width:800px;text-align:center;top:1747.60px;font-size:13px;line-height:13px;font-weight:normal;color:#111;white-space:nowrap;z-index:2;"><span style="display:inline-block;">18</span></div><div style="position:absolute;left:80.50px;width:800px;text-align:center;top:1756.90px;font-size:13px;line-height:13px;font-weight:normal;color:#111;white-space:nowrap;z-index:2;"><span style="display:inline-block;">21</span></div><div style="position:absolute;left:107.50px;width:800px;text-align:center;top:1775.40px;font-size:13px;line-height:13px;font-weight:normal;color:#111;white-space:nowrap;z-index:2;"><span style="display:inline-block;">24</span></div><div style="position:absolute;left:128.40px;width:800px;text-align:center;top:1799.90px;font-size:13px;line-height:13px;font-weight:normal;color:#111;white-space:nowrap;z-index:2;"><span style="display:inline-block;">27</span></div><div style="position:absolute;left:141.80px;width:800px;text-align:center;top:1830.10px;font-size:13px;line-height:13px;font-weight:normal;color:#111;white-space:nowrap;z-index:2;"><span style="display:inline-block;">30</span></div><div style="position:absolute;left:146.20px;width:800px;text-align:center;top:1864.40px;font-size:13px;line-height:13px;font-weight:normal;color:#111;white-space:nowrap;z-index:2;"><span style="display:inline-block;">33</span></div><div style="position:absolute;left:-47.60px;width:800px;text-align:center;top:1861.00px;font-size:13px;line-height:13px;font-weight:normal;color:#111;white-space:nowrap;z-index:2;"><span style="display:inline-block;">0</span></div><div style="position:absolute;left:-13.60px;width:800px;text-align:center;top:1919.92px;font-size:12.5px;line-height:12.5px;font-weight:bold;color:#444;white-space:nowrap;z-index:2;"><span style="display:inline-block;">OLA Violated</span></div><div style="position:absolute;left:-13.60px;width:800px;text-align:center;top:1934.80px;font-size:15px;line-height:15px;font-weight:bold;color:#e0241c;white-space:nowrap;z-index:2;"><span style="display:inline-block;">0</span></div><div style="position:absolute;left:80.90px;width:800px;text-align:center;top:1919.92px;font-size:12.5px;line-height:12.5px;font-weight:bold;color:#444;white-space:nowrap;z-index:2;"><span style="display:inline-block;">Open</span></div><div style="position:absolute;left:80.90px;width:800px;text-align:center;top:1934.80px;font-size:15px;line-height:15px;font-weight:bold;color:#2a46a8;white-space:nowrap;z-index:2;"><span style="display:inline-block;">33</span></div><div style="position:absolute;left:844px;top:1678px;width:817px;height:300px;background:#fff;box-sizing:border-box;border:1px solid #dcdcdc;"></div><div style="position:absolute;left:845px;top:1679px;width:815px;height:47px;background:#f4f4f4;box-sizing:border-box;border-bottom:1px solid #dcdcdc;"></div><div style="position:absolute;left:860.50px;top:1696.15px;font-size:14px;line-height:14px;font-weight:bold;color:#333;white-space:nowrap;z-index:2;"><span style="display:inline-block;">Requests nearing OLA violation</span></div><div style="position:absolute;left:777.40px;width:800px;text-align:center;top:1861.00px;font-size:13px;line-height:13px;font-weight:normal;color:#111;white-space:nowrap;z-index:2;"><span style="display:inline-block;">0</span></div><div style="position:absolute;left:737.40px;width:800px;text-align:center;top:1863.70px;font-size:13px;line-height:13px;font-weight:normal;color:#111;white-space:nowrap;z-index:2;"><span style="display:inline-block;">0</span></div><div style="position:absolute;left:967.10px;width:800px;text-align:center;top:1863.70px;font-size:13px;line-height:13px;font-weight:normal;color:#111;white-space:nowrap;z-index:2;"><span style="display:inline-block;">1</span></div><div style="position:absolute;left:1125.70px;top:1930.12px;font-size:12.5px;line-height:12.5px;font-weight:bold;color:#333;white-space:nowrap;z-index:2;"><span style="display:inline-block;transform:scaleX(0.9670);transform-origin:left center;">Next</span></div><div style="position:absolute;left:1157px;top:1929px;width:11px;height:11px;background:#e8301f;"></div><div style="position:absolute;left:1172.60px;top:1930.12px;font-size:12.5px;line-height:12.5px;font-weight:bold;color:#444;white-space:nowrap;z-index:2;"><span style="display:inline-block;transform:scaleX(1.0161);transform-origin:left center;">60 Mins</span></div><div style="position:absolute;left:1226px;top:1929px;width:11px;height:11px;background:#e9a93a;"></div><div style="position:absolute;left:1243.70px;top:1930.12px;font-size:12.5px;line-height:12.5px;font-weight:bold;color:#444;white-space:nowrap;z-index:2;"><span style="display:inline-block;transform:scaleX(0.9998);transform-origin:left center;">120 Mins</span></div><div style="position:absolute;left:1304px;top:1929px;width:11px;height:11px;background:#ece35c;"></div><div style="position:absolute;left:1322.60px;top:1930.12px;font-size:12.5px;line-height:12.5px;font-weight:bold;color:#444;white-space:nowrap;z-index:2;"><span style="display:inline-block;transform:scaleX(0.9979);transform-origin:left center;">180 Mins</span></div><div style="position:absolute;left:796.50px;width:800px;text-align:center;top:1945.10px;font-size:15px;line-height:15px;font-weight:bold;color:#2a46a8;white-space:nowrap;z-index:2;"><span style="display:inline-block;">0</span></div><div style="position:absolute;left:869.50px;width:800px;text-align:center;top:1945.10px;font-size:15px;line-height:15px;font-weight:bold;color:#2a46a8;white-space:nowrap;z-index:2;"><span style="display:inline-block;">0</span></div><div style="position:absolute;left:948.80px;width:800px;text-align:center;top:1945.10px;font-size:15px;line-height:15px;font-weight:bold;color:#2a46a8;white-space:nowrap;z-index:2;"><span style="display:inline-block;">0</span></div><div style="position:absolute;left:19px;top:1986px;width:817px;height:300px;background:#fff;box-sizing:border-box;border:1px solid #dcdcdc;"></div><div style="position:absolute;left:20px;top:1987px;width:815px;height:47px;background:#f4f4f4;box-sizing:border-box;border-bottom:1px solid #dcdcdc;"></div><div style="position:absolute;left:35.50px;top:2004.15px;font-size:14px;line-height:14px;font-weight:bold;color:#333;white-space:nowrap;z-index:2;"><span style="display:inline-block;">OLA Violation by Group</span></div><div style="position:absolute;left:27.60px;width:800px;text-align:center;top:2151.86px;font-size:14.7px;line-height:14.7px;font-weight:normal;color:#666;white-space:nowrap;z-index:2;"><span style="display:inline-block;transform:scaleX(1.0036);transform-origin:center center;">No data to display</span></div><div style="position:absolute;left:844px;top:1986px;width:817px;height:300px;background:#fff;box-sizing:border-box;border:1px solid #dcdcdc;"></div><div style="position:absolute;left:845px;top:1987px;width:815px;height:47px;background:#f4f4f4;box-sizing:border-box;border-bottom:1px solid #dcdcdc;"></div><div style="position:absolute;left:860.50px;top:2004.15px;font-size:14px;line-height:14px;font-weight:bold;color:#333;white-space:nowrap;z-index:2;"><span style="display:inline-block;">Requests by Category</span></div><div style="position:absolute;left:1134.10px;top:2057.70px;font-size:13px;line-height:13px;font-weight:normal;color:#111;white-space:nowrap;z-index:2;"><span style="display:inline-block;transform:scaleX(0.9960);transform-origin:left center;">Not Assigned, 22</span></div><div style="position:absolute;left:1307.30px;top:2148.50px;font-size:13px;line-height:13px;font-weight:normal;color:#111;white-space:nowrap;z-index:2;"><span style="display:inline-block;transform:scaleX(0.9390);transform-origin:left center;">General, 2</span></div><div style="position:absolute;left:1297.90px;top:2163.60px;font-size:13px;line-height:13px;font-weight:normal;color:#111;white-space:nowrap;z-index:2;"><span style="display:inline-block;transform:scaleX(0.9834);transform-origin:left center;">Desktop Hardware, 2</span></div><div style="position:absolute;left:1282.90px;top:2176.70px;font-size:13px;line-height:13px;font-weight:normal;color:#111;white-space:nowrap;z-index:2;"><span style="display:inline-block;transform:scaleX(0.9967);transform-origin:left center;">Antivirus, 2</span></div><div style="position:absolute;left:1159.40px;top:2176.70px;font-size:13px;line-height:13px;font-weight:normal;color:#111;white-space:nowrap;z-index:2;"><span style="display:inline-block;transform:scaleX(0.9816);transform-origin:left center;">Network, 9</span></div><svg style="position:absolute;left:954.5px;top:2206.5px;" width="12" height="12" viewBox="0 0 12 12"><path d="M5.2 2 A4.6 4.6 0 1 0 9.8 6.6 H5.2 Z" fill="#b5d5f1"/><path d="M6.6 0.6 A4.6 4.6 0 0 1 11.2 5.2 H6.6 Z" fill="#b5d5f1"/></svg><div style="position:absolute;left:971.80px;top:2206.69px;font-size:11px;line-height:11px;font-weight:normal;color:#222;white-space:nowrap;z-index:2;"><span style="display:inline-block;transform:scaleX(0.9163);transform-origin:left center;">Not Assigned</span></div><svg style="position:absolute;left:1048.6px;top:2206.5px;" width="12" height="12" viewBox="0 0 12 12"><path d="M5.2 2 A4.6 4.6 0 1 0 9.8 6.6 H5.2 Z" fill="#ecbf45"/><path d="M6.6 0.6 A4.6 4.6 0 0 1 11.2 5.2 H6.6 Z" fill="#ecbf45"/></svg><div style="position:absolute;left:1065.70px;top:2206.69px;font-size:11px;line-height:11px;font-weight:normal;color:#222;white-space:nowrap;z-index:2;"><span style="display:inline-block;transform:scaleX(0.9122);transform-origin:left center;">Network</span></div><svg style="position:absolute;left:1119.4px;top:2206.5px;" width="12" height="12" viewBox="0 0 12 12"><path d="M5.2 2 A4.6 4.6 0 1 0 9.8 6.6 H5.2 Z" fill="#8fc23f"/><path d="M6.6 0.6 A4.6 4.6 0 0 1 11.2 5.2 H6.6 Z" fill="#8fc23f"/></svg><div style="position:absolute;left:1136.10px;top:2206.69px;font-size:11px;line-height:11px;font-weight:normal;color:#222;white-space:nowrap;z-index:2;"><span style="display:inline-block;transform:scaleX(0.9387);transform-origin:left center;">Antivirus</span></div><svg style="position:absolute;left:1192.4px;top:2206.5px;" width="12" height="12" viewBox="0 0 12 12"><path d="M5.2 2 A4.6 4.6 0 1 0 9.8 6.6 H5.2 Z" fill="#f0944d"/><path d="M6.6 0.6 A4.6 4.6 0 0 1 11.2 5.2 H6.6 Z" fill="#f0944d"/></svg><div style="position:absolute;left:1209.30px;top:2206.69px;font-size:11px;line-height:11px;font-weight:normal;color:#222;white-space:nowrap;z-index:2;"><span style="display:inline-block;transform:scaleX(0.9068);transform-origin:left center;">Desktop Hardware</span></div><svg style="position:absolute;left:1307.8px;top:2206.5px;" width="12" height="12" viewBox="0 0 12 12"><path d="M5.2 2 A4.6 4.6 0 1 0 9.8 6.6 H5.2 Z" fill="#3a8f8f"/><path d="M6.6 0.6 A4.6 4.6 0 0 1 11.2 5.2 H6.6 Z" fill="#3a8f8f"/></svg><div style="position:absolute;left:1324.80px;top:2206.69px;font-size:11px;line-height:11px;font-weight:normal;color:#222;white-space:nowrap;z-index:2;"><span style="display:inline-block;transform:scaleX(0.8610);transform-origin:left center;">General</span></div><svg style="position:absolute;left:1375.6px;top:2206.5px;" width="12" height="12" viewBox="0 0 12 12"><path d="M5.2 2 A4.6 4.6 0 1 0 9.8 6.6 H5.2 Z" fill="#d64a4a"/><path d="M6.6 0.6 A4.6 4.6 0 0 1 11.2 5.2 H6.6 Z" fill="#d64a4a"/></svg><div style="position:absolute;left:1392.40px;top:2206.69px;font-size:11px;line-height:11px;font-weight:normal;color:#222;white-space:nowrap;z-index:2;"><span style="display:inline-block;transform:scaleX(0.9086);transform-origin:left center;">Operating System</span></div><svg style="position:absolute;left:1489.5px;top:2206.5px;" width="12" height="12" viewBox="0 0 12 12"><path d="M5.2 2 A4.6 4.6 0 1 0 9.8 6.6 H5.2 Z" fill="#8a4f9e"/><path d="M6.6 0.6 A4.6 4.6 0 0 1 11.2 5.2 H6.6 Z" fill="#8a4f9e"/></svg><div style="position:absolute;left:1506.30px;top:2206.69px;font-size:11px;line-height:11px;font-weight:normal;color:#222;white-space:nowrap;z-index:2;"><span style="display:inline-block;transform:scaleX(0.9243);transform-origin:left center;">Switches</span></div><svg style="position:absolute;left:0px;top:0px;pointer-events:none;z-index:1;" width="1679" height="2293" viewBox="0 0 1679 2293"><circle cx="1253.3" cy="603.4" r="43" fill="rgba(0,0,0,0.10)"/><path d="M1252.30 601.90 L1294.30 601.90 A42 42 0 0 1 1293.70 609.00 Z" fill="#ef6c2a" stroke="#ef6c2a" stroke-width="0.3"/><path d="M1252.30 601.90 L1293.70 609.00 A42 42 0 0 1 1288.97 622.38 Z" fill="#666666" stroke="#666666" stroke-width="0.3"/><path d="M1252.30 601.90 L1288.97 622.38 A42 42 0 0 1 1246.97 643.56 Z" fill="#e8301f" stroke="#e8301f" stroke-width="0.3"/><path d="M1252.30 601.90 L1246.97 643.56 A42 42 0 1 1 1294.30 601.90 Z" fill="#b5d5f1" stroke="#b5d5f1" stroke-width="0.3"/><path d="M1203.5 542.3 H1208 L1224.7 570" fill="none" stroke="#888" stroke-width="0.8"/><path d="M1294 606 L1318 612.3 H1323.6" fill="none" stroke="#888" stroke-width="0.8"/><path d="M1292 617 L1315 629 H1320.5" fill="none" stroke="#888" stroke-width="0.8"/><path d="M1271 640 L1282 673.2 H1288" fill="none" stroke="#888" stroke-width="0.8"/><rect x="75.4" y="827.3" width="733.6" height="145.9000000000001" fill="none" stroke="#f0f0f0" stroke-width="1"/><path d="M75.4 857.4 H809" stroke="#d8d8d8" stroke-width="1" stroke-dasharray="1,3"/><path d="M75.4 886.4 H809" stroke="#d8d8d8" stroke-width="1" stroke-dasharray="1,3"/><path d="M75.4 915.2 H809" stroke="#d8d8d8" stroke-width="1" stroke-dasharray="1,3"/><path d="M75.4 944.3 H809" stroke="#d8d8d8" stroke-width="1" stroke-dasharray="1,3"/><path d="M75.4 973.2 H809" stroke="#eaeaea" stroke-width="1"/><rect x="469" y="902" width="2.5" height="71" fill="rgba(0,0,0,0.07)"/><rect x="417.8" y="900.6" width="49.8" height="72.6" fill="#74a4c8"/><defs><radialGradient id="g1252_943" cx="1252" cy="943.8" r="93" gradientUnits="userSpaceOnUse"><stop offset="0" stop-color="#ffffff"/><stop offset="1" stop-color="#dedede"/></radialGradient></defs><path d="M1159 943.8 A93 93 0 0 1 1345 943.8 Z" fill="url(#g1252_943)" stroke="#c8c8c8" stroke-width="1"/><path d="M1159 943.8 H1345" stroke="#d2d2d2" stroke-width="2"/><path d="M1157.80 943.80 A94.2 94.2 0 0 1 1224.42 853.73" fill="none" stroke="#e8574c" stroke-width="3"/><path d="M1159.50 943.80 L1163.00 943.80" stroke="#7d8aa0" stroke-width="1"/><path d="M1164.27 914.47 L1167.59 915.58" stroke="#7d8aa0" stroke-width="1"/><path d="M1178.10 888.17 L1180.90 890.27" stroke="#7d8aa0" stroke-width="1"/><path d="M1199.55 867.61 L1201.54 870.49" stroke="#7d8aa0" stroke-width="1"/><path d="M1226.42 854.91 L1227.39 858.27" stroke="#7d8aa0" stroke-width="1"/><path d="M1255.93 851.38 L1255.78 854.88" stroke="#7d8aa0" stroke-width="1"/><path d="M1285.03 857.40 L1283.78 860.67" stroke="#7d8aa0" stroke-width="1"/><path d="M1310.72 872.33 L1308.50 875.03" stroke="#7d8aa0" stroke-width="1"/><path d="M1330.35 894.63 L1327.39 896.49" stroke="#7d8aa0" stroke-width="1"/><path d="M1341.90 922.02 L1338.50 922.84" stroke="#7d8aa0" stroke-width="1"/><path d="M1159.50 943.80 L1165.50 943.80" stroke="#7d8aa0" stroke-width="2"/><path d="M1255.93 851.38 L1255.67 857.38" stroke="#7d8aa0" stroke-width="2"/><path d="M1344.50 943.80 L1338.50 943.80" stroke="#7d8aa0" stroke-width="2"/><path d="M1255.82 942.63 L1226.71 859.51 L1225.75 859.80 L1248.18 944.97 Z" fill="#f0ae36"/><circle cx="1252" cy="943.8" r="9" fill="#f2c55c"/><defs><radialGradient id="g427_1251" cx="427.4" cy="1251.6" r="93" gradientUnits="userSpaceOnUse"><stop offset="0" stop-color="#ffffff"/><stop offset="1" stop-color="#dedede"/></radialGradient></defs><path d="M334.4 1251.6 A93 93 0 0 1 520.4 1251.6 Z" fill="url(#g427_1251)" stroke="#c8c8c8" stroke-width="1"/><path d="M334.4 1251.6 H520.4" stroke="#d2d2d2" stroke-width="2"/><path d="M333.20 1251.60 A94.2 94.2 0 0 1 341.56 1212.80" fill="none" stroke="#e8574c" stroke-width="3"/><path d="M334.90 1251.60 L338.40 1251.60" stroke="#7d8aa0" stroke-width="1"/><path d="M339.67 1222.27 L342.99 1223.38" stroke="#7d8aa0" stroke-width="1"/><path d="M353.50 1195.97 L356.30 1198.07" stroke="#7d8aa0" stroke-width="1"/><path d="M374.95 1175.41 L376.94 1178.29" stroke="#7d8aa0" stroke-width="1"/><path d="M401.82 1162.71 L402.79 1166.07" stroke="#7d8aa0" stroke-width="1"/><path d="M431.33 1159.18 L431.18 1162.68" stroke="#7d8aa0" stroke-width="1"/><path d="M460.43 1165.20 L459.18 1168.47" stroke="#7d8aa0" stroke-width="1"/><path d="M486.12 1180.13 L483.90 1182.83" stroke="#7d8aa0" stroke-width="1"/><path d="M505.75 1202.43 L502.79 1204.29" stroke="#7d8aa0" stroke-width="1"/><path d="M517.30 1229.82 L513.90 1230.64" stroke="#7d8aa0" stroke-width="1"/><path d="M334.90 1251.60 L340.90 1251.60" stroke="#7d8aa0" stroke-width="2"/><path d="M431.33 1159.18 L431.07 1165.18" stroke="#7d8aa0" stroke-width="2"/><path d="M519.90 1251.60 L513.90 1251.60" stroke="#7d8aa0" stroke-width="2"/><path d="M429.05 1247.96 L347.42 1214.90 L347.01 1215.81 L425.75 1255.24 Z" fill="#f0ae36"/><circle cx="427.4" cy="1251.6" r="9" fill="#f2c55c"/><defs><radialGradient id="g1252_1252" cx="1252.4" cy="1252" r="93" gradientUnits="userSpaceOnUse"><stop offset="0" stop-color="#ffffff"/><stop offset="1" stop-color="#dedede"/></radialGradient></defs><path d="M1159.4 1252 A93 93 0 0 1 1345.4 1252 Z" fill="url(#g1252_1252)" stroke="#c8c8c8" stroke-width="1"/><path d="M1159.4 1252 H1345.4" stroke="#d2d2d2" stroke-width="2"/><path d="M1158.20 1252.00 A94.2 94.2 0 0 1 1158.27 1248.45" fill="none" stroke="#f2d36b" stroke-width="3"/><path d="M1159.90 1252.00 L1165.90 1252.00" stroke="#8a8a80" stroke-width="2"/><path d="M1344.90 1252.00 L1338.90 1252.00" stroke="#8a8a80" stroke-width="2"/><path d="M1252.40 1249.00 L1164.40 1251.50 L1164.40 1252.50 L1252.40 1255.00 Z" fill="#e8301f"/><circle cx="1252.4" cy="1252" r="9" fill="#7f7f74"/><path d="M1224.4 1166.0 l0.6 2.2 M1326.4 1199.0 l-1.6 1.2 M1326.4 1305.5 l1.2 0.8" stroke="#888" stroke-width="0.8"/><rect x="45.4" y="1443.4" width="764.0" height="109.59999999999991" fill="none" stroke="#f0f0f0" stroke-width="1"/><path d="M45.4 1466.1 H809.4" stroke="#d8d8d8" stroke-width="1" stroke-dasharray="1,3"/><path d="M45.4 1488.3 H809.4" stroke="#d8d8d8" stroke-width="1" stroke-dasharray="1,3"/><path d="M45.4 1509.4 H809.4" stroke="#d8d8d8" stroke-width="1" stroke-dasharray="1,3"/><path d="M45.4 1531.1 H809.4" stroke="#d8d8d8" stroke-width="1" stroke-dasharray="1,3"/><polyline points="52.2,1553.0 91.7,1553.0 91.7,1553.0 131.2,1553.0 131.2,1542.0 170.7,1542.0 170.7,1553.0 210.2,1553.0 210.2,1553.0 249.7,1553.0 249.7,1553.0 289.2,1553.0 289.2,1553.0 328.7,1553.0 328.7,1553.0 368.2,1553.0 368.2,1553.0 407.7,1553.0 407.7,1553.0 447.2,1553.0 447.2,1553.0 486.7,1553.0 486.7,1520.0 526.2,1520.0 526.2,1553.0 565.7,1553.0 565.7,1553.0 605.2,1553.0 605.2,1553.0 644.7,1553.0 644.7,1553.0 684.2,1553.0 684.2,1553.0 723.7,1553.0 723.7,1553.0 763.2,1553.0 763.2,1476.0 802.7,1476.0 802.7,1487.0" fill="none" stroke="#7ccf5a" stroke-width="2.2"/><path d="M52.2 1553 H802.7" stroke="#ecc24f" stroke-width="2.5"/><path d="M52.2 1554.6 H802.7" stroke="rgba(0,0,0,0.08)" stroke-width="1"/><circle cx="52.2" cy="1553" r="3.3" fill="#fff" stroke="#ecc24f" stroke-width="1.2"/><circle cx="91.7" cy="1553" r="3.3" fill="#fff" stroke="#ecc24f" stroke-width="1.2"/><circle cx="131.2" cy="1553" r="3.3" fill="#fff" stroke="#ecc24f" stroke-width="1.2"/><circle cx="170.7" cy="1553" r="3.3" fill="#fff" stroke="#ecc24f" stroke-width="1.2"/><circle cx="210.2" cy="1553" r="3.3" fill="#fff" stroke="#ecc24f" stroke-width="1.2"/><circle cx="249.7" cy="1553" r="3.3" fill="#fff" stroke="#ecc24f" stroke-width="1.2"/><circle cx="289.2" cy="1553" r="3.3" fill="#fff" stroke="#ecc24f" stroke-width="1.2"/><circle cx="328.7" cy="1553" r="3.3" fill="#fff" stroke="#ecc24f" stroke-width="1.2"/><circle cx="368.2" cy="1553" r="3.3" fill="#fff" stroke="#ecc24f" stroke-width="1.2"/><circle cx="407.7" cy="1553" r="3.3" fill="#fff" stroke="#ecc24f" stroke-width="1.2"/><circle cx="447.2" cy="1553" r="3.3" fill="#fff" stroke="#ecc24f" stroke-width="1.2"/><circle cx="486.7" cy="1553" r="3.3" fill="#fff" stroke="#ecc24f" stroke-width="1.2"/><circle cx="526.2" cy="1553" r="3.3" fill="#fff" stroke="#ecc24f" stroke-width="1.2"/><circle cx="565.7" cy="1553" r="3.3" fill="#fff" stroke="#ecc24f" stroke-width="1.2"/><circle cx="605.2" cy="1553" r="3.3" fill="#fff" stroke="#ecc24f" stroke-width="1.2"/><circle cx="644.7" cy="1553" r="3.3" fill="#fff" stroke="#ecc24f" stroke-width="1.2"/><circle cx="684.2" cy="1553" r="3.3" fill="#fff" stroke="#ecc24f" stroke-width="1.2"/><circle cx="723.7" cy="1553" r="3.3" fill="#fff" stroke="#ecc24f" stroke-width="1.2"/><circle cx="763.2" cy="1553" r="3.3" fill="#fff" stroke="#ecc24f" stroke-width="1.2"/><circle cx="802.7" cy="1553" r="3.3" fill="#fff" stroke="#ecc24f" stroke-width="1.2"/><circle cx="131.2" cy="1542.0" r="3.3" fill="#fff" stroke="#7ccf5a" stroke-width="1.2"/><circle cx="486.7" cy="1520.0" r="3.3" fill="#fff" stroke="#7ccf5a" stroke-width="1.2"/><circle cx="763.2" cy="1476.0" r="3.3" fill="#fff" stroke="#7ccf5a" stroke-width="1.2"/><circle cx="802.7" cy="1487.0" r="3.3" fill="#fff" stroke="#7ccf5a" stroke-width="1.2"/><rect x="870.6" y="1443.3" width="763.1999999999999" height="109.29999999999995" fill="none" stroke="#f0f0f0" stroke-width="1"/><path d="M870.6 1466.3 H1633.8" stroke="#d8d8d8" stroke-width="1" stroke-dasharray="1,3"/><path d="M870.6 1488.3 H1633.8" stroke="#d8d8d8" stroke-width="1" stroke-dasharray="1,3"/><path d="M870.6 1509 H1633.8" stroke="#d8d8d8" stroke-width="1" stroke-dasharray="1,3"/><path d="M870.6 1531.4 H1633.8" stroke="#d8d8d8" stroke-width="1" stroke-dasharray="1,3"/><path d="M870.6 1552.6 H1633.8" stroke="#e8e8e8" stroke-width="1.5"/><rect x="1593" y="1482" width="2.5" height="70.6" fill="rgba(0,0,0,0.08)"/><rect x="1561.1" y="1480.3" width="31.5" height="72.3" fill="#b7d6f2" stroke="#c8c48a" stroke-width="0.8"/><rect x="1561.1" y="1480.3" width="31.5" height="2" fill="#c9b65a"/><defs><radialGradient id="g427_1867" cx="427.4" cy="1867.5" r="93" gradientUnits="userSpaceOnUse"><stop offset="0" stop-color="#ffffff"/><stop offset="1" stop-color="#dedede"/></radialGradient></defs><path d="M334.4 1867.5 A93 93 0 0 1 520.4 1867.5 Z" fill="url(#g427_1867)" stroke="#c8c8c8" stroke-width="1"/><path d="M334.4 1867.5 H520.4" stroke="#d2d2d2" stroke-width="2"/><path d="M333.20 1867.50 A94.2 94.2 0 0 1 333.23 1865.26" fill="none" stroke="#e8574c" stroke-width="3"/><path d="M334.90 1867.50 L338.90 1867.50" stroke="#7d8aa0" stroke-width="1"/><path d="M335.05 1862.22 L339.04 1862.45" stroke="#7d8aa0" stroke-width="1"/><path d="M335.50 1856.96 L339.48 1857.41" stroke="#7d8aa0" stroke-width="1"/><path d="M336.25 1851.73 L340.20 1852.41" stroke="#7d8aa0" stroke-width="1"/><path d="M337.30 1846.55 L341.20 1847.46" stroke="#7d8aa0" stroke-width="1"/><path d="M338.65 1841.44 L342.48 1842.57" stroke="#7d8aa0" stroke-width="1"/><path d="M340.28 1836.42 L344.05 1837.76" stroke="#7d8aa0" stroke-width="1"/><path d="M342.20 1831.49 L345.88 1833.05" stroke="#7d8aa0" stroke-width="1"/><path d="M344.39 1826.69 L347.98 1828.45" stroke="#7d8aa0" stroke-width="1"/><path d="M346.86 1822.01 L350.34 1823.98" stroke="#7d8aa0" stroke-width="1"/><path d="M349.58 1817.49 L352.95 1819.65" stroke="#7d8aa0" stroke-width="1"/><path d="M352.57 1813.13 L355.80 1815.48" stroke="#7d8aa0" stroke-width="1"/><path d="M355.79 1808.95 L358.89 1811.48" stroke="#7d8aa0" stroke-width="1"/><path d="M359.25 1804.95 L362.20 1807.66" stroke="#7d8aa0" stroke-width="1"/><path d="M362.93 1801.17 L365.72 1804.03" stroke="#7d8aa0" stroke-width="1"/><path d="M366.83 1797.59 L369.44 1800.62" stroke="#7d8aa0" stroke-width="1"/><path d="M370.92 1794.25 L373.36 1797.42" stroke="#7d8aa0" stroke-width="1"/><path d="M375.19 1791.14 L377.45 1794.45" stroke="#7d8aa0" stroke-width="1"/><path d="M379.63 1788.29 L381.70 1791.71" stroke="#7d8aa0" stroke-width="1"/><path d="M384.23 1785.69 L386.10 1789.23" stroke="#7d8aa0" stroke-width="1"/><path d="M388.97 1783.36 L390.64 1787.00" stroke="#7d8aa0" stroke-width="1"/><path d="M393.84 1781.30 L395.29 1785.03" stroke="#7d8aa0" stroke-width="1"/><path d="M398.82 1779.53 L400.05 1783.33" stroke="#7d8aa0" stroke-width="1"/><path d="M403.88 1778.04 L404.90 1781.91" stroke="#7d8aa0" stroke-width="1"/><path d="M409.03 1776.84 L409.82 1780.76" stroke="#7d8aa0" stroke-width="1"/><path d="M414.24 1775.94 L414.81 1779.90" stroke="#7d8aa0" stroke-width="1"/><path d="M419.48 1775.34 L419.83 1779.32" stroke="#7d8aa0" stroke-width="1"/><path d="M424.76 1775.04 L424.87 1779.04" stroke="#7d8aa0" stroke-width="1"/><path d="M430.04 1775.04 L429.93 1779.04" stroke="#7d8aa0" stroke-width="1"/><path d="M435.32 1775.34 L434.97 1779.32" stroke="#7d8aa0" stroke-width="1"/><path d="M440.56 1775.94 L439.99 1779.90" stroke="#7d8aa0" stroke-width="1"/><path d="M445.77 1776.84 L444.98 1780.76" stroke="#7d8aa0" stroke-width="1"/><path d="M450.92 1778.04 L449.90 1781.91" stroke="#7d8aa0" stroke-width="1"/><path d="M455.98 1779.53 L454.75 1783.33" stroke="#7d8aa0" stroke-width="1"/><path d="M460.96 1781.30 L459.51 1785.03" stroke="#7d8aa0" stroke-width="1"/><path d="M465.83 1783.36 L464.16 1787.00" stroke="#7d8aa0" stroke-width="1"/><path d="M470.57 1785.69 L468.70 1789.23" stroke="#7d8aa0" stroke-width="1"/><path d="M475.17 1788.29 L473.10 1791.71" stroke="#7d8aa0" stroke-width="1"/><path d="M479.61 1791.14 L477.35 1794.45" stroke="#7d8aa0" stroke-width="1"/><path d="M483.88 1794.25 L481.44 1797.42" stroke="#7d8aa0" stroke-width="1"/><path d="M487.97 1797.59 L485.36 1800.62" stroke="#7d8aa0" stroke-width="1"/><path d="M491.87 1801.17 L489.08 1804.03" stroke="#7d8aa0" stroke-width="1"/><path d="M495.55 1804.95 L492.60 1807.66" stroke="#7d8aa0" stroke-width="1"/><path d="M499.01 1808.95 L495.91 1811.48" stroke="#7d8aa0" stroke-width="1"/><path d="M502.23 1813.13 L499.00 1815.48" stroke="#7d8aa0" stroke-width="1"/><path d="M505.22 1817.49 L501.85 1819.65" stroke="#7d8aa0" stroke-width="1"/><path d="M507.94 1822.01 L504.46 1823.98" stroke="#7d8aa0" stroke-width="1"/><path d="M510.41 1826.69 L506.82 1828.45" stroke="#7d8aa0" stroke-width="1"/><path d="M512.60 1831.49 L508.92 1833.05" stroke="#7d8aa0" stroke-width="1"/><path d="M514.52 1836.42 L510.75 1837.76" stroke="#7d8aa0" stroke-width="1"/><path d="M516.15 1841.44 L512.32 1842.57" stroke="#7d8aa0" stroke-width="1"/><path d="M517.50 1846.55 L513.60 1847.46" stroke="#7d8aa0" stroke-width="1"/><path d="M518.55 1851.73 L514.60 1852.41" stroke="#7d8aa0" stroke-width="1"/><path d="M519.30 1856.96 L515.32 1857.41" stroke="#7d8aa0" stroke-width="1"/><path d="M519.75 1862.22 L515.76 1862.45" stroke="#7d8aa0" stroke-width="1"/><path d="M519.90 1867.50 L515.90 1867.50" stroke="#7d8aa0" stroke-width="1"/><path d="M334.90 1867.50 L341.90 1867.50" stroke="#7d8aa0" stroke-width="2"/><path d="M338.65 1841.44 L345.36 1843.41" stroke="#7d8aa0" stroke-width="2"/><path d="M349.58 1817.49 L355.47 1821.28" stroke="#7d8aa0" stroke-width="2"/><path d="M366.83 1797.59 L371.41 1802.88" stroke="#7d8aa0" stroke-width="2"/><path d="M388.97 1783.36 L391.88 1789.73" stroke="#7d8aa0" stroke-width="2"/><path d="M414.24 1775.94 L415.23 1782.87" stroke="#7d8aa0" stroke-width="2"/><path d="M440.56 1775.94 L439.57 1782.87" stroke="#7d8aa0" stroke-width="2"/><path d="M465.83 1783.36 L462.92 1789.73" stroke="#7d8aa0" stroke-width="2"/><path d="M487.97 1797.59 L483.39 1802.88" stroke="#7d8aa0" stroke-width="2"/><path d="M505.22 1817.49 L499.33 1821.28" stroke="#7d8aa0" stroke-width="2"/><path d="M516.15 1841.44 L509.44 1843.41" stroke="#7d8aa0" stroke-width="2"/><path d="M519.90 1867.50 L512.90 1867.50" stroke="#7d8aa0" stroke-width="2"/><path d="M427.40 1863.50 L339.40 1867.00 L339.40 1868.00 L427.40 1871.50 Z" fill="#f0ae36"/><circle cx="427.4" cy="1867.5" r="9" fill="#f2c55c"/><defs><radialGradient id="g1252_1867" cx="1252.4" cy="1867.5" r="93" gradientUnits="userSpaceOnUse"><stop offset="0" stop-color="#ffffff"/><stop offset="1" stop-color="#dedede"/></radialGradient></defs><path d="M1159.4 1867.5 A93 93 0 0 1 1345.4 1867.5 Z" fill="url(#g1252_1867)" stroke="#c8c8c8" stroke-width="1"/><path d="M1159.4 1867.5 H1345.4" stroke="#d2d2d2" stroke-width="2"/><path d="M1158.20 1867.50 A94.2 94.2 0 0 1 1158.27 1863.95" fill="none" stroke="#f2d36b" stroke-width="3"/><path d="M1159.90 1867.50 L1165.90 1867.50" stroke="#8a8a80" stroke-width="2"/><path d="M1344.90 1867.50 L1338.90 1867.50" stroke="#8a8a80" stroke-width="2"/><path d="M1252.40 1864.50 L1164.40 1867.00 L1164.40 1868.00 L1252.40 1870.50 Z" fill="#e8301f"/><circle cx="1252.4" cy="1867.5" r="9" fill="#7f7f74"/><path d="M1224.4 1781.5 l0.6 2.2 M1326.4 1814.5 l-1.6 1.2 M1326.4 1921.0 l1.2 0.8" stroke="#888" stroke-width="0.8"/><circle cx="1253.3" cy="2126.9" r="26" fill="rgba(0,0,0,0.10)"/><path d="M1252.30 2125.40 L1277.30 2125.40 A25 25 0 0 1 1276.98 2129.41 Z" fill="#8a4f9e" stroke="#8a4f9e" stroke-width="0.3"/><path d="M1252.30 2125.40 L1276.98 2129.41 A25 25 0 0 1 1276.01 2133.32 Z" fill="#d64a4a" stroke="#d64a4a" stroke-width="0.3"/><path d="M1252.30 2125.40 L1276.01 2133.32 A25 25 0 0 1 1272.29 2140.42 Z" fill="#3a8f8f" stroke="#3a8f8f" stroke-width="0.3"/><path d="M1252.30 2125.40 L1272.29 2140.42 A25 25 0 0 1 1266.50 2145.97 Z" fill="#f0944d" stroke="#f0944d" stroke-width="0.3"/><path d="M1252.30 2125.40 L1266.50 2145.97 A25 25 0 0 1 1259.26 2149.41 Z" fill="#8fc23f" stroke="#8fc23f" stroke-width="0.3"/><path d="M1252.30 2125.40 L1259.26 2149.41 A25 25 0 0 1 1229.30 2135.20 Z" fill="#ecbf45" stroke="#ecbf45" stroke-width="0.3"/><path d="M1252.30 2125.40 L1229.30 2135.20 A25 25 0 1 1 1277.30 2125.40 Z" fill="#b5d5f1" stroke="#b5d5f1" stroke-width="0.3"/><path d="M1276.70 2125.40 A24.4 24.4 0 0 1 1276.38 2129.31" fill="none" stroke="#553471" stroke-width="1.3"/><path d="M1276.38 2129.31 A24.4 24.4 0 0 1 1275.44 2133.13" fill="none" stroke="#843035" stroke-width="1.3"/><path d="M1275.44 2133.13 A24.4 24.4 0 0 1 1271.81 2140.06" fill="none" stroke="#235e66" stroke-width="1.3"/><path d="M1271.81 2140.06 A24.4 24.4 0 0 1 1266.16 2145.48" fill="none" stroke="#946137" stroke-width="1.3"/><path d="M1266.16 2145.48 A24.4 24.4 0 0 1 1259.09 2148.84" fill="none" stroke="#58802d" stroke-width="1.3"/><path d="M1259.09 2148.84 A24.4 24.4 0 0 1 1229.85 2134.96" fill="none" stroke="#927e31" stroke-width="1.3"/><path d="M1229.85 2134.96 A24.4 24.4 0 1 1 1276.70 2125.40" fill="none" stroke="#708cad" stroke-width="1.3"/><path d="M1237.8 2063.5 H1243 L1247.6 2100.4" fill="none" stroke="#888" stroke-width="0.8"/><path d="M1274.3 2137.2 L1296.4 2154.8 H1301" fill="none" stroke="#888" stroke-width="0.8"/><path d="M1271 2144 L1288 2170 H1293" fill="none" stroke="#888" stroke-width="0.8"/><path d="M1264 2150 L1272 2183 H1277" fill="none" stroke="#888" stroke-width="0.8"/><path d="M1241.6 2148.5 L1231.7 2183 H1226" fill="none" stroke="#888" stroke-width="0.8"/></svg><div style="position:absolute;left:1669px;top:77px;width:10px;height:1873px;background:#d7d7d7;z-index:3;"></div><div style="position:absolute;left:1669px;top:1950px;width:2px;height:343px;background:linear-gradient(90deg,#cfcfcf,#f2f2f2);z-index:3;"></div><div style="position:absolute;left:1671px;top:583px;width:7px;height:11px;background:#6b6b6b;z-index:3;border-radius:0 0 3.5px 3.5px;"></div><div style="position:absolute;left:1671px;top:635px;width:7px;height:39px;background:#6b6b6b;z-index:3;border-radius:0 0 3.5px 3.5px;"></div><div style="position:absolute;left:1671px;top:686px;width:7px;height:700px;background:#6b6b6b;z-index:3;"></div><div style="position:absolute;left:1669px;top:1386px;width:10px;height:45px;background:linear-gradient(180deg,#c4c4c4,#d7d7d7);z-index:3;"></div><div style="position:absolute;left:1671px;top:1950px;width:7px;height:343px;background:#6b6b6b;z-index:3;border-radius:3.5px 3.5px 0 0;"></div><div style="position:absolute;left:0;top:0;z-index:5;"><div style="position:absolute;left:11px;top:1386px;width:1658px;height:41px;background:transparent;box-shadow:0 4px 5px -1px rgba(0,0,0,0.18), -3px 2px 4px -1px rgba(0,0,0,0.14);"></div><div style="position:absolute;left:11px;top:1386px;width:1658px;height:41px;background:#fff;box-sizing:border-box;border-bottom:1px solid #e1e1e1;"></div><div style="position:absolute;left:21.50px;top:1400.00px;font-size:13px;line-height:13px;font-weight:bold;color:#4d4d4d;white-space:nowrap;z-index:2;"><span style="display:inline-block;transform:scaleX(0.9392);transform-origin:left center;">Helpdesk</span></div><div style="position:absolute;left:11px;top:1425px;width:75px;height:3px;background:#3a98d8;"></div><div style="position:absolute;left:98.30px;top:1400.00px;font-size:13px;line-height:13px;font-weight:bold;color:#2c6cc2;white-space:nowrap;z-index:2;"><span style="display:inline-block;transform:scaleX(0.9183);transform-origin:left center;">Problem &amp; Change</span></div><div style="position:absolute;left:227.80px;top:1400.00px;font-size:13px;line-height:13px;font-weight:bold;color:#2c6cc2;white-space:nowrap;z-index:2;"><span style="display:inline-block;transform:scaleX(0.9217);transform-origin:left center;">Assets</span></div><div style="position:absolute;left:289.80px;top:1400.00px;font-size:13px;line-height:13px;font-weight:bold;color:#2c6cc2;white-space:nowrap;z-index:2;"><span style="display:inline-block;transform:scaleX(0.9257);transform-origin:left center;">Projects</span></div><div style="position:absolute;left:1231px;top:1386px;width:1px;height:40px;background:#e4e4e4;"></div><div style="position:absolute;left:1339px;top:1386px;width:1px;height:40px;background:#e4e4e4;"></div><div style="position:absolute;left:1491px;top:1386px;width:1px;height:40px;background:#e4e4e4;"></div><div style="position:absolute;left:1542px;top:1386px;width:1px;height:40px;background:#e4e4e4;"></div><div style="position:absolute;left:1628px;top:1386px;width:1px;height:40px;background:#e4e4e4;"></div><svg style="position:absolute;left:1243px;top:1399px;" width="13" height="16" viewBox="0 0 13 16"><path d="M6.5 14.6 Q1.2 8.6 1.2 6.2 A5.3 5.3 0 0 1 11.8 6.2 Q11.8 8.6 6.5 14.6Z" fill="#3d9be0"/><circle cx="6.5" cy="6.1" r="2" fill="#fff"/></svg><div style="position:absolute;left:1264.50px;top:1399.80px;font-size:13px;line-height:13px;font-weight:normal;color:#333;white-space:nowrap;z-index:2;"><span style="display:inline-block;transform:scaleX(0.9943);transform-origin:left center;">All Sites</span></div><svg style="position:absolute;left:1318px;top:1404px;" width="12" height="8" viewBox="0 0 12 8"><path d="M1.80 2.11 L10.20 2.11 L6 6.31 Z" fill="#333"/></svg><svg style="position:absolute;left:1349px;top:1399px;" width="16" height="15" viewBox="0 0 16 15"><circle cx="4.2" cy="4.9" r="1.9" fill="#222"/><circle cx="11.9" cy="4.9" r="1.9" fill="#222"/><circle cx="8.05" cy="4" r="2.2" fill="#222"/><path d="M2 13.4 L3.1 8.4 Q4.5 7.6 6.3 8.4 L7.3 13.4Z M8.8 13.4 L9.8 8.4 Q11.6 7.6 13 8.4 L14.1 13.4Z" fill="#222"/></svg><div style="position:absolute;left:1372.00px;top:1399.80px;font-size:13px;line-height:13px;font-weight:normal;color:#333;white-space:nowrap;z-index:2;"><span style="display:inline-block;transform:scaleX(0.9926);transform-origin:left center;">Support Groups</span></div><svg style="position:absolute;left:1470px;top:1404px;" width="12" height="8" viewBox="0 0 12 8"><path d="M1.80 2.11 L10.20 2.11 L6 6.31 Z" fill="#333"/></svg><svg style="position:absolute;left:1503px;top:1400px;" width="14" height="14" viewBox="0 0 14 14"><path d="M7.46 1.92 A5.3 5.3 0 1 1 2.94 3.79" fill="none" stroke="#222" stroke-width="1.25"/><rect x="2.6" y="2.2" width="2.7" height="2.7" fill="#222"/></svg><svg style="position:absolute;left:1520.8px;top:1404px;" width="12" height="8" viewBox="0 0 12 8"><path d="M2.20 2.29 L9.80 2.29 L6 6.09 Z" fill="#222"/></svg><svg style="position:absolute;left:1553px;top:1401px;" width="14" height="14" viewBox="0 0 14 14"><rect x="0.5" y="0.4" width="13" height="12.6" fill="#666"/><path d="M7 2.8V10.6 M3.1 6.7H10.9" stroke="#fff" stroke-width="1.8"/></svg><div style="position:absolute;left:1575.30px;top:1399.80px;font-size:13px;line-height:13px;font-weight:normal;color:#333;white-space:nowrap;z-index:2;"><span style="display:inline-block;transform:scaleX(0.9571);transform-origin:left center;">New</span></div><svg style="position:absolute;left:1606.6px;top:1404px;" width="12" height="8" viewBox="0 0 12 8"><path d="M1.80 2.11 L10.20 2.11 L6 6.31 Z" fill="#333"/></svg><svg style="position:absolute;left:1639px;top:1400px;" width="15" height="13" viewBox="0 0 15 13"><path d="M1 2H14 M1 6.5H14 M1 11H14" stroke="#333" stroke-width="1.7" stroke-linecap="round"/></svg></div></body></html>
